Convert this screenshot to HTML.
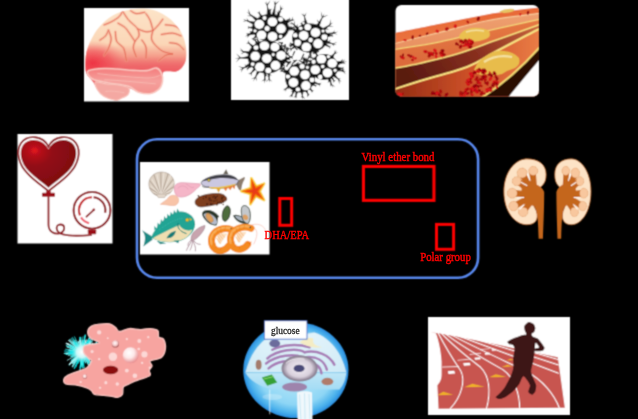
<!DOCTYPE html>
<html><head><meta charset="utf-8">
<style>
html,body{margin:0;padding:0;background:#000;width:638px;height:419px;overflow:hidden}
svg{position:absolute;left:0;top:0;display:block}
text{font-family:"Liberation Serif",serif}
</style></head>
<body>
<svg width="638" height="419" viewBox="0 0 638 419">
<defs><filter id="soft" x="0" y="0" width="638" height="419" filterUnits="userSpaceOnUse"><feConvolveMatrix order="3" kernelMatrix="0.04 0.12 0.04 0.12 0.36 0.12 0.04 0.12 0.04" edgeMode="duplicate" preserveAlpha="false"/></filter></defs>
<rect x="0" y="0" width="638" height="419" fill="#000"/>
<g filter="url(#soft)">
<!-- brain box -->
<g id="brain">
<rect x="84" y="8" width="105" height="93.5" fill="#fff"/>
<defs>
<linearGradient id="bg1" x1="0" y1="0" x2="0" y2="1">
<stop offset="0" stop-color="#fde4c8"/><stop offset="0.4" stop-color="#fbd6b6"/>
<stop offset="0.52" stop-color="#f8c0a0"/><stop offset="0.62" stop-color="#f08078"/>
<stop offset="0.72" stop-color="#ee5a60"/><stop offset="1" stop-color="#f08a88"/>
</linearGradient>
<linearGradient id="bgB" x1="0" y1="0" x2="0" y2="1"><stop offset="0" stop-color="#f06a6a" stop-opacity="0"/><stop offset="0.55" stop-color="#ee5c62" stop-opacity="0.55"/><stop offset="1" stop-color="#ec5460" stop-opacity="0.8"/></linearGradient>
<radialGradient id="bgL" cx="0.5" cy="0.5" r="0.5">
<stop offset="0" stop-color="#ee3444" stop-opacity="1"/><stop offset="0.55" stop-color="#f04a54" stop-opacity="0.6"/><stop offset="1" stop-color="#f07070" stop-opacity="0"/>
</radialGradient>
<linearGradient id="bg2" x1="0" y1="0" x2="0" y2="1">
<stop offset="0" stop-color="#f47c7c"/><stop offset="0.5" stop-color="#f5a09c"/><stop offset="1" stop-color="#f3928e"/>
</linearGradient>
<clipPath id="brclip"><path d="M6,262 C5,246 6,220 10,200 C14,180 22,160 32,140 C42,120 54,100 70,82 C86,64 105,45 130,32 C155,19 191,9 220,5 C249,1 280,2 305,8 C330,14 352,26 372,40 C392,54 412,75 425,95 C438,115 447,138 452,160 C457,182 457,208 455,225 C453,242 447,252 440,262 C433,272 425,279 411,283 C397,287 365,278 355,285 C345,292 354,314 350,327 C346,340 342,355 332,364 C322,373 308,380 293,382 C278,384 258,379 242,375 C226,371 208,356 200,358 C192,360 202,378 196,386 C190,394 172,400 163,404 C154,408 152,413 139,411 C126,409 101,401 88,393 C75,385 67,374 59,363 C51,352 48,341 40,330 C32,319 20,309 14,298 C8,287 7,278 6,262Z"/></clipPath>
</defs>
<g transform="translate(84,8) scale(0.22437)">
<path d="M6,262 C5,246 6,220 10,200 C14,180 22,160 32,140 C42,120 54,100 70,82 C86,64 105,45 130,32 C155,19 191,9 220,5 C249,1 280,2 305,8 C330,14 352,26 372,40 C392,54 412,75 425,95 C438,115 447,138 452,160 C457,182 457,208 455,225 C453,242 447,252 440,262 C433,272 425,279 411,283 C397,287 365,278 355,285 C345,292 354,314 350,327 C346,340 342,355 332,364 C322,373 308,380 293,382 C278,384 258,379 242,375 C226,371 208,356 200,358 C192,360 202,378 196,386 C190,394 172,400 163,404 C154,408 152,413 139,411 C126,409 101,401 88,393 C75,385 67,374 59,363 C51,352 48,341 40,330 C32,319 20,309 14,298 C8,287 7,278 6,262Z" fill="url(#bg1)"/>
<rect x="0" y="160" width="470" height="150" fill="url(#bgB)" clip-path="url(#brclip)"/>
<ellipse cx="40" cy="245" rx="150" ry="100" fill="url(#bgL)" clip-path="url(#brclip)"/>
<g fill="none" stroke="#f2a48a" stroke-width="12" stroke-linecap="round" stroke-linejoin="round" opacity="0.55" clip-path="url(#brclip)"><path d="M171,12 C175,19 188,40 196,50 C203,59 207,61 214,68 C222,76 234,84 239,93 C244,103 247,115 245,124 C243,134 231,140 227,149 C223,159 219,169 220,180 C222,192 231,211 233,218"/><path d="M90,75 C95,73 110,68 121,62 C132,56 150,46 158,37 C167,29 169,17 171,12"/><path d="M152,68 C157,71 175,80 183,87 C191,94 195,102 202,112 C209,122 223,143 227,149"/><path d="M239,93 C245,95 265,105 276,106 C288,107 298,105 308,99 C317,94 325,83 332,75 C340,66 348,54 351,50"/><path d="M276,25 C280,30 290,44 295,56 C300,68 305,92 308,99"/><path d="M308,99 C306,106 299,125 301,137 C303,148 312,159 320,168 C328,177 339,186 351,193 C363,199 387,203 395,205"/><path d="M345,118 C353,117 380,111 395,112 C409,113 426,122 432,124"/><path d="M363,75 C371,76 393,76 407,81 C420,86 438,102 444,106"/><path d="M109,99 C111,106 121,123 121,137 C121,150 114,168 109,180 C103,193 93,206 90,211"/><path d="M140,106 C141,113 140,137 146,149 C152,162 170,166 177,180 C184,195 187,227 189,236"/><path d="M258,143 C261,148 273,161 276,174 C280,188 276,215 276,224"/><path d="M382,155 C388,156 409,156 419,162 C430,167 440,182 444,186"/><path d="M208,12 C212,15 223,24 233,25 C243,26 264,20 270,19"/><path d="M395,37 C399,42 415,63 419,68"/><path d="M71,143 C75,140 90,132 96,124 C102,117 107,104 109,99"/><path d="M332,236 C338,232 353,217 363,211 C374,206 389,206 395,205"/></g>
<g fill="none" stroke="#e4604e" stroke-width="4" stroke-linecap="round" stroke-linejoin="round" clip-path="url(#brclip)"><path d="M171,12 C175,19 188,40 196,50 C203,59 207,61 214,68 C222,76 234,84 239,93 C244,103 247,115 245,124 C243,134 231,140 227,149 C223,159 219,169 220,180 C222,192 231,211 233,218"/><path d="M90,75 C95,73 110,68 121,62 C132,56 150,46 158,37 C167,29 169,17 171,12"/><path d="M152,68 C157,71 175,80 183,87 C191,94 195,102 202,112 C209,122 223,143 227,149"/><path d="M239,93 C245,95 265,105 276,106 C288,107 298,105 308,99 C317,94 325,83 332,75 C340,66 348,54 351,50"/><path d="M276,25 C280,30 290,44 295,56 C300,68 305,92 308,99"/><path d="M308,99 C306,106 299,125 301,137 C303,148 312,159 320,168 C328,177 339,186 351,193 C363,199 387,203 395,205"/><path d="M345,118 C353,117 380,111 395,112 C409,113 426,122 432,124"/><path d="M363,75 C371,76 393,76 407,81 C420,86 438,102 444,106"/><path d="M109,99 C111,106 121,123 121,137 C121,150 114,168 109,180 C103,193 93,206 90,211"/><path d="M140,106 C141,113 140,137 146,149 C152,162 170,166 177,180 C184,195 187,227 189,236"/><path d="M258,143 C261,148 273,161 276,174 C280,188 276,215 276,224"/><path d="M382,155 C388,156 409,156 419,162 C430,167 440,182 444,186"/><path d="M208,12 C212,15 223,24 233,25 C243,26 264,20 270,19"/><path d="M395,37 C399,42 415,63 419,68"/><path d="M71,143 C75,140 90,132 96,124 C102,117 107,104 109,99"/><path d="M332,236 C338,232 353,217 363,211 C374,206 389,206 395,205"/></g>
<path d="M22,279 C34,274 69,271 90,270 C111,269 125,271 147,272 C169,273 198,277 220,278 C242,279 262,281 279,279 C296,277 312,266 323,268 C334,270 340,280 345,290 C350,300 352,315 350,327 C348,339 342,355 332,364 C322,373 308,380 293,382 C278,384 258,380 242,375 C226,370 220,356 198,349 C176,342 136,339 110,334 C84,329 59,326 44,320 C29,314 24,307 20,300 C16,293 10,284 22,279Z" fill="url(#bg2)" stroke="#f9c8c0" stroke-width="7"/>
<path d="M51,330 C58,326 84,336 100,338 C116,340 131,339 147,342 C163,345 190,349 198,356 C206,363 202,378 196,386 C190,394 172,400 163,404 C154,408 152,413 139,411 C126,409 101,401 88,393 C75,385 65,374 59,363 C53,352 44,334 51,330Z" fill="#f4a8a2" stroke="#f8c4bc" stroke-width="5"/>
<g fill="none" stroke="#f7c0b8" stroke-width="3.5" opacity="0.9">
<path d="M60,292 C120,300 200,308 280,312 C310,312 330,305 342,298"/>
<path d="M90,320 C150,322 230,330 320,338"/>
<path d="M95,372 C120,368 150,372 180,378"/>
</g>
</g>
</g>
<!-- network box -->
<g id="net">
<rect x="231" y="0" width="118" height="100" fill="#fff"/>
<g id="netart">
<g stroke="#141414" stroke-width="1.1" fill="none"><path d="M313.1,60.5 L308.1,61.1"/><path d="M303.6,68.0 L296.2,66.9"/><path d="M282.8,43.4 L278.7,42.2"/><path d="M286.5,66.8 L289.2,61.4"/><path d="M292.7,56.5 L286.2,58.1"/><path d="M313.6,42.1 L320.3,41.1"/><path d="M282.6,42.3 L281.0,45.5"/><path d="M302.2,62.7 L304.3,60.7"/><path d="M280.1,56.2 L285.3,61.1"/><path d="M298.2,43.5 L291.6,44.2"/><path d="M285.1,56.0 L287.5,63.2"/><path d="M308.3,56.1 L311.6,56.1"/><path d="M293.3,62.8 L295.8,60.8"/><path d="M305.6,68.8 L308.6,63.5"/><path d="M312.4,63.5 L312.7,68.0"/><path d="M284.1,67.0 L284.1,70.3"/><path d="M308.2,46.2 L303.2,49.3"/><path d="M280.9,52.4 L275.6,50.5"/><path d="M307.0,59.1 L302.5,59.2"/><path d="M293.1,60.7 L297.2,60.2"/><path d="M284.1,67.7 L279.6,69.3"/><path d="M308.1,47.9 L314.0,49.0"/><path d="M283.1,50.8 L277.0,53.5"/><path d="M288.2,64.3 L290.8,61.4"/><path d="M309.0,57.2 L306.0,61.9"/><path d="M311.7,62.4 L316.9,67.9"/><path d="M291.3,68.0 L295.1,75.1"/><path d="M303.2,50.4 L301.4,46.3"/><path d="M285.8,53.5 L289.1,47.9"/><path d="M313.7,52.4 L314.9,47.2"/><path d="M284.7,46.0 L278.2,45.9"/><path d="M303.1,58.0 L307.8,62.2"/><path d="M282.0,59.1 L289.5,59.3"/><path d="M307.9,57.1 L313.6,58.3"/><path d="M313.8,53.0 L315.6,47.7"/><path d="M303.6,63.3 L306.6,61.1"/><path d="M313.0,53.7 L319.0,51.2"/><path d="M286.6,57.0 L282.2,59.3"/><path d="M311.5,48.7 L314.9,50.0"/><path d="M303.4,60.2 L307.3,59.7"/><path d="M281.2,63.0 L284.7,66.4"/><path d="M299.1,42.4 L306.1,45.4"/><path d="M286.9,50.4 L284.9,44.2"/><path d="M305.4,48.6 L310.0,46.5"/><path d="M311.7,66.8 L308.9,65.7"/><path d="M313.4,50.4 L306.7,51.9"/><path d="M304.9,69.9 L310.3,64.9"/><path d="M313.6,48.6 L309.1,48.4"/><path d="M309.6,65.6 L310.7,62.3"/><path d="M289.9,42.9 L292.5,44.7"/><path d="M301.8,45.7 L302.0,42.4"/><path d="M292.8,55.5 L294.8,51.0"/><path d="M283.7,61.2 L281.9,66.6"/><path d="M289.6,69.5 L289.4,75.2"/><path d="M293.2,62.5 L290.3,68.3"/><path d="M313.7,45.5 L308.5,48.5"/><path d="M285.7,51.9 L278.3,54.8"/><path d="M299.8,42.7 L304.9,40.4"/><path d="M293.7,46.3 L297.3,49.9"/><path d="M313.2,64.8 L320.1,67.6"/><path d="M293.7,66.0 L298.5,62.6"/><path d="M285.9,50.5 L287.8,47.4"/><path d="M281.8,47.8 L276.0,43.1"/><path d="M313.8,68.5 L312.4,65.3"/><path d="M301.0,60.1 L303.9,53.7"/><path d="M286.4,53.8 L292.6,58.4"/><path d="M311.2,49.1 L310.6,56.4"/><path d="M304.3,63.7 L298.8,60.1"/><path d="M283.8,45.3 L285.0,49.6"/><path d="M313.8,43.7 L310.0,48.2"/></g>
<g fill="#141414"><path d="M270.7,16.6 L268.4,8.8 L266.7,0.9 L267.0,9.0 L266.6,17.1Z"/><path d="M267.7,5.6 L270.4,0.2 L266.8,5.1Z"/><path d="M267.6,4.9 L264.6,2.1 L266.9,5.6Z"/><path d="M268.5,12.5 L271.8,9.0 L267.7,11.6Z"/><path d="M259.8,19.4 L253.0,15.8 L246.7,11.7 L252.2,16.9 L257.2,22.7Z"/><path d="M250.3,14.0 L248.1,8.8 L249.3,14.3Z"/><path d="M251.8,15.3 L246.8,16.0 L251.9,16.3Z"/><path d="M256.9,22.1 L249.8,21.0 L243.0,19.3 L249.3,22.4 L255.4,26.1Z"/><path d="M248.8,21.0 L246.6,18.0 L247.9,21.5Z"/><path d="M246.3,20.1 L242.9,21.5 L246.5,21.0Z"/><path d="M255.5,30.1 L250.4,33.6 L245.0,36.4 L250.9,34.9 L257.0,34.0Z"/><path d="M249.4,34.3 L246.0,33.7 L249.1,35.2Z"/><path d="M248.2,34.8 L247.5,38.1 L249.1,35.2Z"/><path d="M278.9,18.7 L280.3,12.2 L282.5,6.0 L279.1,11.6 L275.1,16.9Z"/><path d="M280.9,10.3 L283.7,8.1 L280.4,9.5Z"/><path d="M281.3,9.5 L280.1,4.6 L280.3,9.6Z"/><path d="M279.1,13.9 L276.5,11.0 L278.1,14.6Z"/><path d="M285.3,25.3 L289.8,21.8 L294.5,18.9 L289.2,20.5 L283.6,21.5Z"/><path d="M291.1,20.9 L294.7,21.1 L291.2,19.9Z"/><path d="M292.4,20.2 L293.1,16.5 L291.5,19.9Z"/><path d="M288.1,22.2 L288.0,18.8 L286.9,22.0Z"/><path d="M275.2,17.3 L275.3,8.7 L276.1,0.2 L273.9,8.4 L271.1,16.6Z"/><path d="M275.7,4.8 L279.5,0.4 L275.0,4.1Z"/><path d="M275.7,4.6 L273.6,0.6 L274.8,5.0Z"/><path d="M250.7,55.4 L242.8,57.2 L234.8,58.2 L242.8,58.6 L250.9,59.6Z"/><path d="M240.9,57.6 L236.2,53.6 L240.2,58.3Z"/><path d="M239.3,57.7 L235.9,62.5 L240.1,58.3Z"/><path d="M251.7,61.4 L245.7,66.1 L239.4,70.2 L246.3,67.4 L253.6,65.1Z"/><path d="M243.8,67.5 L238.1,66.2 L243.5,68.5Z"/><path d="M242.5,68.1 L240.9,72.4 L243.4,68.6Z"/><path d="M257.8,68.1 L255.8,74.9 L253.2,81.5 L257.1,75.6 L261.5,70.0Z"/><path d="M255.2,76.9 L250.9,79.2 L255.6,77.8Z"/><path d="M255.1,77.0 L256.8,81.2 L256.1,76.7Z"/><path d="M263.3,70.2 L264.1,76.8 L264.2,83.4 L265.5,77.0 L267.5,70.6Z"/><path d="M264.3,78.9 L261.4,81.6 L264.8,79.8Z"/><path d="M264.2,78.6 L266.8,82.0 L265.1,78.1Z"/><path d="M264.7,74.8 L268.1,76.7 L265.4,73.8Z"/><path d="M266.3,70.6 L268.3,76.5 L269.5,82.4 L269.7,76.4 L270.5,70.3Z"/><path d="M268.8,78.5 L266.5,81.8 L269.6,79.1Z"/><path d="M268.9,79.6 L272.3,81.7 L269.5,78.9Z"/><path d="M268.5,74.6 L271.9,75.7 L269.0,73.5Z"/><path d="M251.9,51.5 L245.7,51.3 L239.7,50.5 L245.4,52.7 L250.8,55.6Z"/><path d="M243.2,51.0 L240.0,47.9 L242.5,51.6Z"/><path d="M244.3,51.3 L240.7,54.2 L244.9,52.2Z"/><path d="M308.8,26.1 L305.9,19.6 L303.6,12.9 L304.5,19.9 L304.7,27.1Z"/><path d="M304.9,16.8 L306.5,12.6 L304.0,16.4Z"/><path d="M304.8,16.1 L301.2,13.5 L304.1,16.8Z"/><path d="M306.0,21.9 L301.9,21.1 L305.6,23.1Z"/><path d="M318.8,28.6 L321.3,20.9 L324.4,13.5 L320.0,20.2 L315.1,26.7Z"/><path d="M322.6,17.7 L328.2,14.9 L322.2,16.8Z"/><path d="M322.8,17.2 L320.8,11.3 L321.9,17.4Z"/><path d="M319.7,23.1 L316.8,19.2 L318.6,23.7Z"/><path d="M323.1,32.6 L327.8,27.2 L333.0,22.5 L327.0,26.1 L320.6,29.2Z"/><path d="M328.2,26.6 L333.8,26.2 L328.2,25.6Z"/><path d="M330.4,24.9 L331.0,19.3 L329.4,24.7Z"/><path d="M325.0,28.9 L329.1,29.8 L325.4,27.8Z"/><path d="M324.9,37.2 L331.4,34.2 L338.0,31.8 L331.0,32.8 L323.9,33.1Z"/><path d="M332.7,33.6 L337.5,34.6 L333.0,32.6Z"/><path d="M333.5,33.3 L334.9,29.9 L332.7,32.8Z"/><path d="M323.7,43.3 L330.3,43.8 L336.7,45.0 L330.7,42.5 L324.8,39.3Z"/><path d="M331.7,43.9 L334.3,46.2 L332.5,43.3Z"/><path d="M333.2,44.3 L337.3,42.1 L332.8,43.4Z"/><path d="M328.4,42.9 L330.9,39.8 L327.6,41.9Z"/><path d="M300.7,28.4 L295.4,25.3 L290.6,21.6 L294.4,26.3 L297.8,31.4Z"/><path d="M294.7,25.1 L294.2,20.8 L293.7,25.1Z"/><path d="M292.8,23.2 L288.7,24.0 L292.8,24.2Z"/><path d="M297.3,27.5 L297.4,23.9 L296.1,27.3Z"/><path d="M335.9,66.5 L341.3,63.6 L347.0,61.5 L341.0,62.3 L334.8,62.4Z"/><path d="M342.2,63.1 L346.0,64.3 L342.7,62.2Z"/><path d="M343.1,62.8 L344.9,58.9 L342.3,62.3Z"/><path d="M334.9,71.4 L340.6,71.3 L346.1,71.9 L340.9,69.9 L335.9,67.3Z"/><path d="M342.9,71.5 L345.7,74.3 L343.7,70.9Z"/><path d="M342.2,71.4 L344.9,69.8 L341.8,70.4Z"/><path d="M331.2,75.5 L336.6,78.6 L341.5,82.1 L337.5,77.5 L334.0,72.5Z"/><path d="M338.3,79.8 L339.4,84.3 L339.3,79.7Z"/><path d="M337.9,79.4 L341.0,78.8 L337.9,78.4Z"/><path d="M326.4,77.4 L329.9,82.4 L332.8,87.8 L331.2,81.9 L330.3,75.8Z"/><path d="M330.6,83.3 L330.1,87.0 L331.6,83.6Z"/><path d="M331.2,84.8 L335.3,87.2 L331.7,84.0Z"/><path d="M329.2,79.6 L327.6,82.9 L330.2,80.3Z"/><path d="M332.5,59.8 L334.3,54.9 L336.7,50.5 L333.2,54.1 L329.1,57.4Z"/><path d="M334.5,54.3 L338.0,52.4 L334.1,53.3Z"/><path d="M335.5,52.9 L335.0,49.8 L334.5,52.8Z"/><path d="M299.6,89.9 L301.6,94.6 L303.0,99.5 L303.0,94.5 L303.7,89.3Z"/><path d="M302.1,95.4 L300.6,98.0 L302.9,96.1Z"/><path d="M302.2,96.8 L305.2,99.2 L302.9,96.1Z"/><path d="M292.9,87.7 L292.1,92.8 L290.6,97.7 L293.4,93.4 L296.8,89.5Z"/><path d="M291.6,94.6 L289.0,96.7 L292.1,95.4Z"/><path d="M291.4,94.9 L292.2,97.5 L292.4,94.8Z"/><path d="M293.5,90.7 L290.6,91.7 L293.7,91.9Z"/><path d="M303.4,89.4 L306.6,92.9 L309.2,96.6 L307.9,92.3 L307.2,87.6Z"/><path d="M307.7,94.3 L306.9,97.6 L308.6,94.7Z"/><path d="M307.6,94.3 L309.8,95.0 L308.1,93.5Z"/><path d="M289.2,83.6 L286.5,87.5 L283.4,90.8 L287.4,88.6 L291.8,86.9Z"/><path d="M285.4,88.8 L283.1,89.0 L285.3,89.8Z"/><path d="M285.5,88.7 L285.8,91.8 L286.5,88.8Z"/><path d="M287.7,87.0 L288.6,89.6 L288.9,86.9Z"/><path d="M254.5,29.6 L249.6,32.5 L255.3,32.6Z"/><path d="M251.4,31.7 L249.4,31.3 L251.0,32.5Z"/><path d="M250.8,31.9 L250.1,33.7 L251.6,32.4Z"/><path d="M254.7,30.5 L246.6,35.1 L255.8,33.5Z"/><path d="M249.3,33.7 L246.1,33.0 L249.0,34.6Z"/><path d="M248.8,33.9 L247.5,36.9 L249.6,34.4Z"/><path d="M286.7,29.3 L295.6,27.4 L286.6,26.1Z"/><path d="M292.7,27.8 L295.4,29.5 L293.2,27.1Z"/><path d="M293.2,27.8 L295.3,25.4 L292.6,27.2Z"/><path d="M286.4,30.6 L295.9,29.9 L286.7,27.5Z"/><path d="M292.8,29.9 L295.4,31.9 L293.4,29.3Z"/><path d="M293.3,30.0 L295.7,27.8 L292.8,29.3Z"/><path d="M271.7,16.1 L269.9,8.2 L268.5,16.2Z"/><path d="M270.3,10.9 L271.7,8.4 L269.6,10.3Z"/><path d="M270.3,10.3 L268.1,8.5 L269.6,10.9Z"/><path d="M254.4,26.0 L247.5,27.4 L254.3,29.2Z"/><path d="M249.8,27.1 L247.7,25.9 L249.2,27.8Z"/><path d="M249.3,27.1 L247.6,29.0 L249.8,27.8Z"/><path d="M256.7,33.9 L251.8,39.7 L258.6,36.5Z"/><path d="M253.6,37.9 L251.0,38.3 L253.5,38.8Z"/><path d="M253.1,38.3 L253.0,40.9 L254.0,38.5Z"/><path d="M285.3,23.5 L290.7,18.6 L283.7,20.7Z"/><path d="M288.8,20.1 L291.3,20.1 L288.9,19.2Z"/><path d="M289.3,19.8 L289.7,17.3 L288.4,19.5Z"/><path d="M263.5,17.0 L258.3,11.4 L260.8,18.7Z"/><path d="M259.9,13.4 L259.8,10.7 L259.0,13.2Z"/><path d="M259.6,12.9 L256.9,12.5 L259.3,13.7Z"/><path d="M278.6,17.8 L280.0,10.6 L275.6,16.5Z"/><path d="M279.4,13.0 L281.4,11.5 L279.0,12.1Z"/><path d="M279.6,12.4 L278.5,10.1 L278.7,12.7Z"/><path d="M250.9,61.7 L244.8,66.4 L252.3,64.6Z"/><path d="M247.0,65.0 L244.3,64.8 L246.7,65.9Z"/><path d="M246.4,65.3 L245.8,67.8 L247.3,65.6Z"/><path d="M283.1,62.3 L291.4,62.9 L283.9,59.2Z"/><path d="M288.7,62.5 L290.7,64.6 L289.4,62.0Z"/><path d="M289.2,62.6 L291.6,61.0 L288.8,61.8Z"/><path d="M266.7,42.7 L264.5,37.4 L263.5,43.0Z"/><path d="M265.0,39.3 L265.7,37.5 L264.3,38.8Z"/><path d="M265.0,38.7 L263.3,37.7 L264.3,39.4Z"/><path d="M261.1,43.4 L256.7,37.9 L258.2,44.8Z"/><path d="M258.0,39.9 L258.2,37.4 L257.1,39.6Z"/><path d="M257.8,39.3 L255.4,38.7 L257.4,40.2Z"/><path d="M259.4,44.0 L254.1,38.5 L256.6,45.7Z"/><path d="M255.7,40.5 L255.6,37.9 L254.8,40.4Z"/><path d="M255.4,40.0 L252.8,39.6 L255.1,40.9Z"/><path d="M283.9,59.9 L290.8,59.0 L284.2,56.7Z"/><path d="M288.5,59.1 L290.5,60.5 L289.1,58.5Z"/><path d="M289.0,59.2 L290.7,57.4 L288.5,58.4Z"/><path d="M254.6,66.7 L249.5,75.1 L257.0,68.8Z"/><path d="M251.3,72.5 L248.0,73.4 L251.4,73.4Z"/><path d="M250.9,72.9 L251.3,76.3 L251.8,72.9Z"/><path d="M284.1,55.9 L289.1,53.3 L283.5,52.7Z"/><path d="M287.3,54.0 L289.1,54.5 L287.7,53.2Z"/><path d="M287.8,53.9 L288.7,52.1 L287.1,53.3Z"/><path d="M255.1,46.5 L246.9,41.5 L253.0,48.9Z"/><path d="M249.5,43.3 L248.5,40.1 L248.6,43.4Z"/><path d="M249.1,42.9 L245.8,43.3 L249.1,43.8Z"/><path d="M251.9,63.6 L246.2,69.5 L253.7,66.3Z"/><path d="M248.2,67.7 L245.4,67.8 L248.1,68.6Z"/><path d="M247.7,68.0 L247.4,70.8 L248.6,68.2Z"/><path d="M296.2,43.7 L289.1,50.6 L298.0,46.4Z"/><path d="M291.5,48.5 L288.1,48.6 L291.5,49.4Z"/><path d="M291.1,48.8 L290.6,52.3 L291.9,49.1Z"/><path d="M323.1,45.2 L330.9,47.4 L324.6,42.3Z"/><path d="M328.4,46.5 L329.8,48.9 L329.2,46.1Z"/><path d="M328.9,46.8 L331.5,45.7 L328.7,45.9Z"/><path d="M304.7,26.2 L301.1,22.3 L301.8,27.5Z"/><path d="M302.2,23.8 L302.2,22.0 L301.3,23.6Z"/><path d="M301.9,23.3 L300.1,22.9 L301.5,24.1Z"/><path d="M295.2,42.0 L289.0,46.9 L296.7,44.9Z"/><path d="M291.2,45.5 L288.4,45.2 L291.0,46.3Z"/><path d="M290.7,45.7 L290.0,48.4 L291.5,46.1Z"/><path d="M308.5,50.4 L310.1,55.7 L311.7,50.3Z"/><path d="M309.8,53.8 L308.9,55.5 L310.5,54.4Z"/><path d="M309.8,54.4 L311.3,55.5 L310.5,53.8Z"/><path d="M297.5,30.1 L290.0,27.4 L295.8,32.9Z"/><path d="M292.5,28.5 L291.2,26.0 L291.6,28.8Z"/><path d="M292.0,28.2 L289.3,29.0 L292.1,29.1Z"/><path d="M325.7,37.9 L333.6,35.3 L325.3,34.8Z"/><path d="M330.9,36.0 L333.6,37.1 L331.4,35.2Z"/><path d="M331.5,35.9 L333.1,33.5 L330.8,35.3Z"/><path d="M308.0,25.6 L305.1,20.2 L304.9,26.3Z"/><path d="M305.9,22.1 L306.5,20.1 L305.1,21.7Z"/><path d="M305.8,21.6 L303.9,20.7 L305.3,22.3Z"/><path d="M295.0,41.6 L289.2,46.0 L296.3,44.5Z"/><path d="M291.2,44.6 L288.7,44.4 L291.0,45.5Z"/><path d="M290.7,44.9 L290.0,47.3 L291.5,45.3Z"/><path d="M313.4,50.2 L317.6,57.8 L316.5,49.2Z"/><path d="M316.4,55.2 L315.7,58.1 L317.2,55.5Z"/><path d="M316.6,55.7 L319.3,56.9 L317.0,55.0Z"/><path d="M327.4,77.7 L331.0,82.0 L330.4,76.4Z"/><path d="M330.0,80.4 L329.8,82.3 L330.8,80.6Z"/><path d="M330.2,80.9 L332.1,81.3 L330.6,80.1Z"/><path d="M335.8,70.7 L344.2,70.8 L336.4,67.6Z"/><path d="M341.4,70.6 L343.6,72.6 L342.1,70.0Z"/><path d="M342.0,70.7 L344.3,68.9 L341.5,69.9Z"/><path d="M314.4,73.9 L308.8,82.1 L316.7,76.1Z"/><path d="M310.8,79.5 L307.4,80.4 L310.9,80.4Z"/><path d="M310.4,80.0 L310.6,83.4 L311.3,80.0Z"/><path d="M313.3,61.2 L307.0,60.2 L312.0,64.1Z"/><path d="M309.1,60.7 L307.8,59.0 L308.3,61.1Z"/><path d="M308.6,60.5 L306.7,61.6 L308.9,61.4Z"/><path d="M329.5,77.0 L334.9,82.1 L332.2,75.2Z"/><path d="M333.2,80.3 L333.4,82.9 L334.1,80.4Z"/><path d="M333.5,80.8 L336.1,81.0 L333.8,79.9Z"/><path d="M336.2,69.5 L344.3,68.6 L336.4,66.3Z"/><path d="M341.6,68.7 L343.9,70.4 L342.2,68.1Z"/><path d="M342.1,68.8 L344.2,66.8 L341.6,68.1Z"/><path d="M319.6,56.6 L315.7,52.8 L316.7,58.1Z"/><path d="M316.8,54.2 L316.8,52.3 L316.0,54.0Z"/><path d="M316.6,53.7 L314.7,53.5 L316.2,54.6Z"/><path d="M311.7,68.4 L307.3,71.3 L312.6,71.5Z"/><path d="M308.9,70.5 L307.1,70.2 L308.5,71.3Z"/><path d="M308.4,70.7 L307.7,72.4 L309.1,71.2Z"/><path d="M336.2,64.8 L343.7,60.5 L335.1,61.8Z"/><path d="M341.1,61.8 L344.1,62.4 L341.4,60.9Z"/><path d="M341.7,61.6 L342.8,58.8 L340.9,61.1Z"/><path d="M336.4,65.8 L342.9,62.4 L335.5,62.7Z"/><path d="M340.7,63.4 L343.1,64.1 L341.0,62.6Z"/><path d="M341.2,63.2 L342.3,60.9 L340.5,62.7Z"/><path d="M308.4,68.6 L312.3,59.8 L305.8,66.8Z"/><path d="M310.9,62.6 L313.9,61.3 L310.6,61.8Z"/><path d="M311.2,62.1 L310.4,58.9 L310.3,62.2Z"/><path d="M310.7,85.0 L316.5,86.2 L312.2,82.2Z"/><path d="M314.6,85.6 L315.8,87.3 L315.4,85.3Z"/><path d="M315.1,85.9 L316.9,85.0 L314.9,85.0Z"/><path d="M307.4,88.2 L313.2,92.2 L309.8,86.1Z"/><path d="M311.4,90.7 L312.0,93.1 L312.3,90.7Z"/><path d="M311.8,91.1 L314.2,91.0 L311.9,90.2Z"/><path d="M306.6,67.3 L307.9,60.5 L303.7,66.1Z"/><path d="M307.3,62.8 L309.2,61.3 L306.9,62.0Z"/><path d="M307.5,62.2 L306.4,60.1 L306.7,62.5Z"/><path d="M311.7,83.4 L321.3,84.9 L312.7,80.3Z"/><path d="M318.2,84.2 L320.3,86.8 L318.9,83.7Z"/><path d="M318.7,84.4 L321.7,82.7 L318.4,83.6Z"/><path d="M289.4,70.8 L281.3,68.4 L287.9,73.7Z"/><path d="M283.9,69.4 L282.4,66.8 L283.1,69.7Z"/><path d="M283.4,69.1 L280.6,70.2 L283.6,70.0Z"/><path d="M288.7,71.9 L279.9,70.1 L287.5,74.9Z"/><path d="M282.7,70.9 L280.9,68.4 L281.9,71.3Z"/><path d="M282.2,70.7 L279.4,72.1 L282.5,71.6Z"/><path d="M312.9,77.0 L320.6,73.8 L312.2,73.9Z"/><path d="M317.9,74.7 L320.7,75.6 L318.4,73.9Z"/><path d="M318.5,74.5 L319.9,72.0 L317.8,74.0Z"/><path d="M304.3,66.3 L304.8,56.5 L301.2,65.6Z"/><path d="M304.4,59.7 L306.8,57.3 L303.9,59.0Z"/><path d="M304.6,59.1 L302.6,56.4 L303.8,59.6Z"/><path d="M295.6,89.7 L295.3,98.4 L298.7,90.4Z"/><path d="M295.6,95.5 L293.5,97.7 L296.1,96.2Z"/><path d="M295.4,96.1 L297.2,98.5 L296.2,95.7Z"/><ellipse cx="270.5" cy="28" rx="18.4" ry="13.9"/><ellipse cx="267" cy="57" rx="19.4" ry="16.4"/><ellipse cx="310" cy="38" rx="17.9" ry="14.4"/><ellipse cx="324" cy="67" rx="14.4" ry="12.9"/><ellipse cx="300" cy="78" rx="14.9" ry="14.4"/></g>
<g fill="#fff"><ellipse cx="259.3" cy="24.3" rx="4.8" ry="4.6"/><ellipse cx="272.5" cy="36.5" rx="4.8" ry="4.6"/><ellipse cx="281.1" cy="28.7" rx="4.8" ry="4.6"/><ellipse cx="272.4" cy="21.8" rx="4.8" ry="4.5"/><ellipse cx="261.5" cy="35.0" rx="4.7" ry="4.5"/><ellipse cx="267.1" cy="28.4" rx="2.6" ry="2.5"/><ellipse cx="280.6" cy="19.3" rx="2.5" ry="2.4"/><ellipse cx="264.5" cy="17.9" rx="2.1" ry="2.0"/><ellipse cx="280.6" cy="36.5" rx="1.8" ry="1.7"/><ellipse cx="255.0" cy="30.8" rx="1.7" ry="1.6"/><ellipse cx="255.2" cy="56.2" rx="4.8" ry="4.6"/><ellipse cx="275.5" cy="65.4" rx="4.8" ry="4.6"/><ellipse cx="266.8" cy="58.5" rx="4.8" ry="4.6"/><ellipse cx="281.1" cy="55.4" rx="4.8" ry="4.5"/><ellipse cx="264.4" cy="45.7" rx="4.8" ry="4.5"/><ellipse cx="259.8" cy="67.1" rx="4.8" ry="4.5"/><ellipse cx="274.9" cy="47.0" rx="4.5" ry="4.3"/><ellipse cx="268.3" cy="70.5" rx="3.0" ry="2.8"/><ellipse cx="256.0" cy="47.6" rx="2.5" ry="2.4"/><ellipse cx="252.7" cy="64.1" rx="2.0" ry="1.9"/><ellipse cx="273.2" cy="54.4" rx="1.6" ry="1.5"/><ellipse cx="303.7" cy="35.6" rx="4.8" ry="4.6"/><ellipse cx="315.5" cy="32.5" rx="4.8" ry="4.6"/><ellipse cx="318.0" cy="43.7" rx="4.8" ry="4.6"/><ellipse cx="306.3" cy="47.1" rx="4.8" ry="4.5"/><ellipse cx="297.7" cy="42.8" rx="3.3" ry="3.2"/><ellipse cx="307.7" cy="27.2" rx="3.3" ry="3.1"/><ellipse cx="324.4" cy="37.1" rx="3.0" ry="2.9"/><ellipse cx="295.2" cy="35.3" rx="2.4" ry="2.3"/><ellipse cx="310.6" cy="40.0" rx="2.3" ry="2.2"/><ellipse cx="300.7" cy="28.3" rx="1.9" ry="1.8"/><ellipse cx="323.0" cy="31.0" rx="1.7" ry="1.6"/><ellipse cx="327.5" cy="72.8" rx="4.8" ry="4.6"/><ellipse cx="321.4" cy="59.0" rx="4.8" ry="4.6"/><ellipse cx="315.3" cy="69.8" rx="4.8" ry="4.5"/><ellipse cx="332.2" cy="63.3" rx="4.8" ry="4.5"/><ellipse cx="320.2" cy="77.0" rx="2.3" ry="2.2"/><ellipse cx="313.6" cy="61.8" rx="2.2" ry="2.1"/><ellipse cx="322.7" cy="66.5" rx="1.8" ry="1.8"/><ellipse cx="335.1" cy="70.3" rx="1.7" ry="1.6"/><ellipse cx="328.4" cy="56.6" rx="1.7" ry="1.6"/><ellipse cx="294.2" cy="71.2" rx="4.8" ry="4.6"/><ellipse cx="293.4" cy="82.5" rx="4.8" ry="4.6"/><ellipse cx="305.9" cy="85.7" rx="4.8" ry="4.6"/><ellipse cx="305.0" cy="74.8" rx="4.8" ry="4.6"/><ellipse cx="302.1" cy="66.4" rx="2.6" ry="2.4"/><ellipse cx="312.0" cy="79.9" rx="2.4" ry="2.3"/><ellipse cx="297.9" cy="89.4" rx="2.2" ry="2.1"/><ellipse cx="287.9" cy="76.6" rx="2.2" ry="2.1"/><ellipse cx="307.4" cy="67.5" rx="1.5" ry="1.4"/></g>
</g>
</g>
<!-- artery box -->
<g id="artery">
<defs>
<clipPath id="artclip"><rect x="395.5" y="5" width="143.5" height="91.5" rx="6"/></clipPath>
<linearGradient id="ag1" x1="0" y1="0" x2="0.2" y2="1"><stop offset="0" stop-color="#e4602e"/><stop offset="1" stop-color="#f4925a"/></linearGradient>
<linearGradient id="ag2" x1="0" y1="0" x2="0" y2="1"><stop offset="0" stop-color="#eea070"/><stop offset="1" stop-color="#e07a4c"/></linearGradient>
<linearGradient id="ag4" x1="0" y1="0" x2="0.2" y2="1"><stop offset="0" stop-color="#ea8048"/><stop offset="1" stop-color="#d05830"/></linearGradient>
<linearGradient id="ag3" x1="0" y1="0.3" x2="1" y2="0"><stop offset="0" stop-color="#5a1a10"/><stop offset="0.5" stop-color="#8a3020"/><stop offset="1" stop-color="#d06a40"/></linearGradient>
<linearGradient id="ag5" x1="0" y1="0" x2="1" y2="0"><stop offset="0" stop-color="#902a12"/><stop offset="0.5" stop-color="#cc5028"/><stop offset="1" stop-color="#ec8048"/></linearGradient>
</defs>
<rect x="395.5" y="5" width="143.5" height="91.5" rx="6" fill="#fff"/>
<g clip-path="url(#artclip)">
<path d="M390.0,34.0 C390.8,33.8 386.7,34.6 395.0,32.9 C403.3,31.2 424.7,26.9 440.0,23.8 C455.3,20.7 471.3,17.0 487.0,14.4 C502.7,11.8 524.2,9.3 534.0,8.1 C543.8,6.9 544.0,7.2 546.0,7.0 L546,100 L390,100 Z" fill="url(#ag1)"/>
<path d="M390.0,44.6 C390.8,44.4 386.7,45.5 395.0,43.5 C403.3,41.5 424.7,36.2 440.0,32.4 C455.3,28.6 470.8,23.8 487.0,20.7 C503.2,17.6 527.2,14.9 537.0,13.6 C546.8,12.3 544.5,12.9 546.0,12.8 L546,100 L390,100 Z" fill="url(#ag2)"/>
<path d="M390.0,50.2 C390.8,50.1 386.7,50.8 395.0,49.4 C403.3,48.0 424.7,44.9 440.0,41.8 C455.3,38.7 470.8,34.5 487.0,30.9 C503.2,27.2 527.2,22.0 537.0,19.9 C546.8,17.8 544.5,18.3 546.0,18.0 L546,100 L390,100 Z" fill="url(#ag4)"/>
<path d="M390.0,69.3 C390.8,69.1 390.0,69.2 395.0,68.2 C400.0,67.2 409.6,65.6 420.0,63.2 C430.4,60.8 445.1,57.6 457.6,53.8 C470.1,50.0 481.8,45.3 495.0,40.6 C508.2,35.9 528.5,28.4 537.0,25.4 C545.5,22.4 544.5,23.0 546.0,22.5 L546,100 L390,100 Z" fill="url(#ag3)"/>
<path d="M390.0,90.6 C390.8,90.3 390.0,90.6 395.0,89.0 C400.0,87.4 408.0,84.7 420.0,81.0 C432.0,77.3 454.5,71.8 467.0,67.0 C479.5,62.2 483.3,58.2 495.0,52.0 C506.7,45.8 528.5,34.3 537.0,30.0 C545.5,25.7 544.5,26.7 546.0,26.0 L546,100 L390,100 Z" fill="url(#ag5)"/>
<path d="M478,100 Q514,78 546,40 L546,100 Z" fill="#2a0c06"/>
<path d="M506,100 Q522,80 546,52 L546,100 Z" fill="#fff"/>
<g fill="none" stroke-linecap="round">
<path d="M390.0,44.6 C390.8,44.4 386.7,45.5 395.0,43.5 C403.3,41.5 424.7,36.2 440.0,32.4 C455.3,28.6 470.8,23.8 487.0,20.7 C503.2,17.6 527.2,14.9 537.0,13.6 C546.8,12.3 544.5,12.9 546.0,12.8" stroke="#f8c898" stroke-width="1.1"/>
<path d="M390.0,50.2 C390.8,50.1 386.7,50.8 395.0,49.4 C403.3,48.0 424.7,44.9 440.0,41.8 C455.3,38.7 470.8,34.5 487.0,30.9 C503.2,27.2 527.2,22.0 537.0,19.9 C546.8,17.8 544.5,18.3 546.0,18.0" stroke="#f4d478" stroke-width="1.3"/>
<path d="M390.0,69.3 C390.8,69.1 390.0,69.2 395.0,68.2 C400.0,67.2 409.6,65.6 420.0,63.2 C430.4,60.8 445.1,57.6 457.6,53.8 C470.1,50.0 481.8,45.3 495.0,40.6 C508.2,35.9 528.5,28.4 537.0,25.4 C545.5,22.4 544.5,23.0 546.0,22.5" stroke="#f6dc7c" stroke-width="1.6"/>
<path d="M390.0,90.6 C390.8,90.3 390.0,90.6 395.0,89.0 C400.0,87.4 408.0,84.7 420.0,81.0 C432.0,77.3 454.5,71.8 467.0,67.0 C479.5,62.2 483.3,58.2 495.0,52.0 C506.7,45.8 528.5,34.3 537.0,30.0 C545.5,25.7 544.5,26.7 546.0,26.0" stroke="#f8e080" stroke-width="2.0"/>
<path d="M478,100 Q514,78 546,40" stroke="#f2d870" stroke-width="2"/>
</g>
<path d="M459,36 Q463,29 472,28 Q482,27 489,31 Q492,36 486,39 Q476,43 466,42 Q459,41 459,36Z" fill="#eac050"/>
<path d="M466,32 Q474,29 484,31" stroke="#f4e0a0" stroke-width="1.5" fill="none"/>
<path d="M474,70 Q478,60 486,56 Q494,50 504,51 Q514,52 519,58 Q521,64 515,68 Q508,70 502,74 Q492,77 484,75 Q476,75 474,70Z" fill="#e8bc4c"/>
<path d="M484,62 Q496,54 512,57" stroke="#f4e0a0" stroke-width="2.2" fill="none"/>
<path d="M499,11.5 Q505,8 514,9 Q516,12 504,13Z" fill="#e6c464"/>
<ellipse cx="405.0" cy="40.2" rx="1.7" ry="1.1" transform="rotate(12 405.0 40.2)" fill="#d8181a"/><ellipse cx="412.7" cy="37.4" rx="2.2" ry="1.3" transform="rotate(94 412.7 37.4)" fill="#98060a"/><ellipse cx="420.0" cy="35.7" rx="1.4" ry="0.9" transform="rotate(167 420.0 35.7)" fill="#98060a"/><ellipse cx="427.1" cy="33.8" rx="1.6" ry="1.2" transform="rotate(132 427.1 33.8)" fill="#98060a"/><ellipse cx="437.3" cy="31.2" rx="1.9" ry="1.4" transform="rotate(32 437.3 31.2)" fill="#d8181a"/><ellipse cx="446.9" cy="29.0" rx="2.0" ry="1.7" transform="rotate(151 446.9 29.0)" fill="#b4080e"/><ellipse cx="455.3" cy="26.3" rx="2.1" ry="1.7" transform="rotate(92 455.3 26.3)" fill="#d8181a"/><ellipse cx="467.8" cy="22.1" rx="1.7" ry="1.1" transform="rotate(47 467.8 22.1)" fill="#b4080e"/><ellipse cx="478.3" cy="18.7" rx="2.2" ry="1.6" transform="rotate(117 478.3 18.7)" fill="#98060a"/><ellipse cx="520.3" cy="14.3" rx="1.4" ry="1.1" transform="rotate(114 520.3 14.3)" fill="#d8181a"/><ellipse cx="528.0" cy="12.8" rx="2.0" ry="1.3" transform="rotate(101 528.0 12.8)" fill="#98060a"/><ellipse cx="436.2" cy="53.6" rx="1.5" ry="1.2" transform="rotate(111 436.2 53.6)" fill="#cc1016"/><ellipse cx="441.7" cy="55.7" rx="1.6" ry="0.9" transform="rotate(64 441.7 55.7)" fill="#b4080e"/><ellipse cx="442.5" cy="50.6" rx="2.0" ry="1.6" transform="rotate(3 442.5 50.6)" fill="#98060a"/><ellipse cx="432.1" cy="54.4" rx="1.9" ry="1.5" transform="rotate(157 432.1 54.4)" fill="#b4080e"/><ellipse cx="432.7" cy="54.7" rx="1.7" ry="1.1" transform="rotate(69 432.7 54.7)" fill="#cc1016"/><ellipse cx="433.5" cy="53.3" rx="1.3" ry="0.9" transform="rotate(141 433.5 53.3)" fill="#98060a"/><ellipse cx="442.3" cy="52.9" rx="1.7" ry="1.1" transform="rotate(165 442.3 52.9)" fill="#b4080e"/><ellipse cx="436.4" cy="53.3" rx="1.5" ry="1.1" transform="rotate(27 436.4 53.3)" fill="#b4080e"/><ellipse cx="426.0" cy="52.1" rx="1.6" ry="1.0" transform="rotate(150 426.0 52.1)" fill="#98060a"/><ellipse cx="435.0" cy="50.5" rx="2.2" ry="1.6" transform="rotate(44 435.0 50.5)" fill="#d8181a"/><ellipse cx="428.9" cy="53.1" rx="1.7" ry="1.3" transform="rotate(77 428.9 53.1)" fill="#cc1016"/><ellipse cx="432.0" cy="53.0" rx="1.5" ry="1.0" transform="rotate(37 432.0 53.0)" fill="#cc1016"/><ellipse cx="429.1" cy="54.0" rx="1.6" ry="1.3" transform="rotate(57 429.1 54.0)" fill="#b4080e"/><ellipse cx="441.0" cy="52.8" rx="2.1" ry="1.6" transform="rotate(142 441.0 52.8)" fill="#b4080e"/><ellipse cx="430.6" cy="53.0" rx="1.5" ry="1.2" transform="rotate(162 430.6 53.0)" fill="#cc1016"/><ellipse cx="429.4" cy="55.8" rx="2.0" ry="1.5" transform="rotate(147 429.4 55.8)" fill="#a80a0e"/><ellipse cx="436.1" cy="56.5" rx="2.0" ry="1.4" transform="rotate(71 436.1 56.5)" fill="#d8181a"/><ellipse cx="443.7" cy="54.8" rx="2.2" ry="1.7" transform="rotate(8 443.7 54.8)" fill="#a80a0e"/><ellipse cx="441.5" cy="55.8" rx="1.9" ry="1.2" transform="rotate(30 441.5 55.8)" fill="#d8181a"/><ellipse cx="425.4" cy="51.5" rx="2.1" ry="1.4" transform="rotate(1 425.4 51.5)" fill="#cc1016"/><ellipse cx="415.5" cy="58.3" rx="1.4" ry="1.1" transform="rotate(141 415.5 58.3)" fill="#cc1016"/><ellipse cx="400.9" cy="56.8" rx="1.5" ry="1.1" transform="rotate(60 400.9 56.8)" fill="#a80a0e"/><ellipse cx="408.8" cy="55.3" rx="1.8" ry="1.1" transform="rotate(6 408.8 55.3)" fill="#a80a0e"/><ellipse cx="412.5" cy="60.0" rx="1.5" ry="1.2" transform="rotate(7 412.5 60.0)" fill="#b4080e"/><ellipse cx="408.6" cy="55.1" rx="1.3" ry="1.1" transform="rotate(149 408.6 55.1)" fill="#b4080e"/><ellipse cx="413.2" cy="57.3" rx="1.5" ry="1.3" transform="rotate(70 413.2 57.3)" fill="#d8181a"/><ellipse cx="411.1" cy="56.0" rx="1.4" ry="1.1" transform="rotate(144 411.1 56.0)" fill="#98060a"/><ellipse cx="402.7" cy="57.8" rx="2.1" ry="1.6" transform="rotate(12 402.7 57.8)" fill="#cc1016"/><ellipse cx="403.0" cy="55.1" rx="1.7" ry="1.1" transform="rotate(100 403.0 55.1)" fill="#98060a"/><ellipse cx="410.4" cy="56.8" rx="1.4" ry="1.0" transform="rotate(61 410.4 56.8)" fill="#a80a0e"/><ellipse cx="466.7" cy="44.0" rx="1.5" ry="1.1" transform="rotate(22 466.7 44.0)" fill="#b4080e"/><ellipse cx="457.6" cy="44.3" rx="1.7" ry="1.1" transform="rotate(44 457.6 44.3)" fill="#98060a"/><ellipse cx="460.6" cy="46.7" rx="2.2" ry="1.7" transform="rotate(122 460.6 46.7)" fill="#a80a0e"/><ellipse cx="472.2" cy="42.4" rx="2.1" ry="1.7" transform="rotate(102 472.2 42.4)" fill="#a80a0e"/><ellipse cx="467.8" cy="41.0" rx="1.7" ry="1.1" transform="rotate(139 467.8 41.0)" fill="#98060a"/><ellipse cx="471.8" cy="43.8" rx="1.7" ry="1.3" transform="rotate(122 471.8 43.8)" fill="#a80a0e"/><ellipse cx="470.2" cy="47.4" rx="1.6" ry="1.2" transform="rotate(63 470.2 47.4)" fill="#a80a0e"/><ellipse cx="468.1" cy="43.3" rx="1.9" ry="1.6" transform="rotate(59 468.1 43.3)" fill="#98060a"/><ellipse cx="463.5" cy="45.9" rx="1.3" ry="0.8" transform="rotate(171 463.5 45.9)" fill="#b4080e"/><ellipse cx="468.8" cy="40.6" rx="2.2" ry="1.4" transform="rotate(105 468.8 40.6)" fill="#d8181a"/><ellipse cx="460.7" cy="40.6" rx="1.4" ry="1.1" transform="rotate(178 460.7 40.6)" fill="#cc1016"/><ellipse cx="461.2" cy="41.3" rx="2.0" ry="1.5" transform="rotate(150 461.2 41.3)" fill="#98060a"/><ellipse cx="471.0" cy="41.4" rx="2.1" ry="1.4" transform="rotate(88 471.0 41.4)" fill="#cc1016"/><ellipse cx="464.2" cy="45.8" rx="1.6" ry="1.2" transform="rotate(179 464.2 45.8)" fill="#d8181a"/><ellipse cx="456.2" cy="43.8" rx="1.6" ry="1.1" transform="rotate(106 456.2 43.8)" fill="#98060a"/><ellipse cx="469.0" cy="46.7" rx="1.9" ry="1.5" transform="rotate(66 469.0 46.7)" fill="#d8181a"/><ellipse cx="463.2" cy="42.9" rx="1.4" ry="1.1" transform="rotate(178 463.2 42.9)" fill="#98060a"/><ellipse cx="461.6" cy="42.6" rx="1.4" ry="0.9" transform="rotate(40 461.6 42.6)" fill="#d8181a"/><ellipse cx="472.9" cy="41.8" rx="1.4" ry="0.9" transform="rotate(54 472.9 41.8)" fill="#b4080e"/><ellipse cx="470.6" cy="47.0" rx="1.9" ry="1.4" transform="rotate(173 470.6 47.0)" fill="#98060a"/><ellipse cx="470.9" cy="44.2" rx="2.0" ry="1.3" transform="rotate(171 470.9 44.2)" fill="#b4080e"/><ellipse cx="467.8" cy="44.7" rx="2.2" ry="1.5" transform="rotate(160 467.8 44.7)" fill="#cc1016"/><ellipse cx="465.1" cy="40.8" rx="2.2" ry="1.8" transform="rotate(129 465.1 40.8)" fill="#a80a0e"/><ellipse cx="465.7" cy="44.2" rx="2.1" ry="1.3" transform="rotate(74 465.7 44.2)" fill="#cc1016"/><ellipse cx="488.6" cy="74.5" rx="1.4" ry="0.9" transform="rotate(157 488.6 74.5)" fill="#98060a"/><ellipse cx="469.6" cy="81.1" rx="1.6" ry="1.1" transform="rotate(31 469.6 81.1)" fill="#b4080e"/><ellipse cx="479.5" cy="83.0" rx="2.1" ry="1.3" transform="rotate(173 479.5 83.0)" fill="#cc1016"/><ellipse cx="487.0" cy="84.3" rx="1.8" ry="1.1" transform="rotate(42 487.0 84.3)" fill="#b4080e"/><ellipse cx="467.7" cy="83.6" rx="1.5" ry="1.2" transform="rotate(179 467.7 83.6)" fill="#d8181a"/><ellipse cx="478.4" cy="86.6" rx="1.8" ry="1.1" transform="rotate(85 478.4 86.6)" fill="#98060a"/><ellipse cx="477.4" cy="91.8" rx="2.1" ry="1.6" transform="rotate(7 477.4 91.8)" fill="#cc1016"/><ellipse cx="481.4" cy="94.0" rx="1.9" ry="1.3" transform="rotate(161 481.4 94.0)" fill="#98060a"/><ellipse cx="483.7" cy="78.5" rx="1.5" ry="1.0" transform="rotate(19 483.7 78.5)" fill="#b4080e"/><ellipse cx="472.2" cy="76.2" rx="2.2" ry="1.5" transform="rotate(15 472.2 76.2)" fill="#b4080e"/><ellipse cx="469.4" cy="82.1" rx="1.8" ry="1.2" transform="rotate(36 469.4 82.1)" fill="#b4080e"/><ellipse cx="475.2" cy="90.6" rx="1.4" ry="1.0" transform="rotate(91 475.2 90.6)" fill="#a80a0e"/><ellipse cx="484.4" cy="79.1" rx="1.5" ry="1.0" transform="rotate(172 484.4 79.1)" fill="#b4080e"/><ellipse cx="496.2" cy="82.7" rx="1.5" ry="1.0" transform="rotate(133 496.2 82.7)" fill="#98060a"/><ellipse cx="485.7" cy="75.5" rx="1.6" ry="1.2" transform="rotate(6 485.7 75.5)" fill="#d8181a"/><ellipse cx="477.7" cy="82.1" rx="1.8" ry="1.3" transform="rotate(101 477.7 82.1)" fill="#98060a"/><ellipse cx="485.4" cy="71.4" rx="1.7" ry="1.1" transform="rotate(3 485.4 71.4)" fill="#d8181a"/><ellipse cx="490.1" cy="79.2" rx="2.0" ry="1.4" transform="rotate(113 490.1 79.2)" fill="#d8181a"/><ellipse cx="476.2" cy="91.2" rx="1.5" ry="1.1" transform="rotate(5 476.2 91.2)" fill="#98060a"/><ellipse cx="471.2" cy="75.2" rx="1.9" ry="1.4" transform="rotate(56 471.2 75.2)" fill="#cc1016"/><ellipse cx="471.6" cy="74.5" rx="2.1" ry="1.4" transform="rotate(39 471.6 74.5)" fill="#d8181a"/><ellipse cx="483.2" cy="71.6" rx="1.3" ry="1.0" transform="rotate(37 483.2 71.6)" fill="#b4080e"/><ellipse cx="482.6" cy="93.9" rx="1.4" ry="1.2" transform="rotate(53 482.6 93.9)" fill="#a80a0e"/><ellipse cx="476.3" cy="79.5" rx="2.0" ry="1.5" transform="rotate(179 476.3 79.5)" fill="#b4080e"/><ellipse cx="482.6" cy="70.4" rx="1.9" ry="1.3" transform="rotate(107 482.6 70.4)" fill="#98060a"/><ellipse cx="480.7" cy="70.6" rx="2.1" ry="1.7" transform="rotate(29 480.7 70.6)" fill="#cc1016"/><ellipse cx="485.7" cy="82.9" rx="1.4" ry="1.2" transform="rotate(167 485.7 82.9)" fill="#98060a"/><ellipse cx="478.1" cy="71.8" rx="2.1" ry="1.3" transform="rotate(36 478.1 71.8)" fill="#cc1016"/><ellipse cx="471.7" cy="88.3" rx="1.7" ry="1.2" transform="rotate(77 471.7 88.3)" fill="#d8181a"/><ellipse cx="489.8" cy="72.4" rx="1.3" ry="0.9" transform="rotate(39 489.8 72.4)" fill="#cc1016"/><ellipse cx="471.6" cy="91.1" rx="2.1" ry="1.7" transform="rotate(69 471.6 91.1)" fill="#a80a0e"/><ellipse cx="477.7" cy="69.8" rx="1.5" ry="1.0" transform="rotate(177 477.7 69.8)" fill="#cc1016"/><ellipse cx="487.8" cy="82.6" rx="1.6" ry="1.2" transform="rotate(58 487.8 82.6)" fill="#a80a0e"/><ellipse cx="478.5" cy="82.0" rx="1.6" ry="1.2" transform="rotate(71 478.5 82.0)" fill="#cc1016"/><ellipse cx="495.4" cy="81.7" rx="1.6" ry="1.0" transform="rotate(126 495.4 81.7)" fill="#d8181a"/><ellipse cx="496.8" cy="84.1" rx="2.0" ry="1.4" transform="rotate(21 496.8 84.1)" fill="#98060a"/><ellipse cx="478.8" cy="80.3" rx="1.4" ry="0.9" transform="rotate(122 478.8 80.3)" fill="#b4080e"/><ellipse cx="487.6" cy="91.3" rx="1.8" ry="1.4" transform="rotate(130 487.6 91.3)" fill="#b4080e"/><ellipse cx="475.9" cy="86.2" rx="1.8" ry="1.4" transform="rotate(24 475.9 86.2)" fill="#a80a0e"/><ellipse cx="479.5" cy="90.4" rx="1.6" ry="1.2" transform="rotate(31 479.5 90.4)" fill="#98060a"/><ellipse cx="496.0" cy="76.8" rx="1.9" ry="1.4" transform="rotate(62 496.0 76.8)" fill="#a80a0e"/><ellipse cx="475.6" cy="90.2" rx="1.8" ry="1.2" transform="rotate(155 475.6 90.2)" fill="#cc1016"/><ellipse cx="466.5" cy="82.4" rx="1.4" ry="1.0" transform="rotate(35 466.5 82.4)" fill="#cc1016"/><ellipse cx="490.9" cy="90.6" rx="1.8" ry="1.1" transform="rotate(148 490.9 90.6)" fill="#b4080e"/><ellipse cx="481.1" cy="79.3" rx="2.1" ry="1.3" transform="rotate(32 481.1 79.3)" fill="#a80a0e"/><ellipse cx="493.0" cy="85.2" rx="2.1" ry="1.4" transform="rotate(85 493.0 85.2)" fill="#98060a"/><ellipse cx="467.5" cy="79.9" rx="1.4" ry="0.9" transform="rotate(165 467.5 79.9)" fill="#b4080e"/><ellipse cx="494.4" cy="82.2" rx="2.1" ry="1.7" transform="rotate(13 494.4 82.2)" fill="#d8181a"/><ellipse cx="475.3" cy="71.6" rx="2.0" ry="1.2" transform="rotate(36 475.3 71.6)" fill="#cc1016"/><ellipse cx="485.2" cy="76.7" rx="2.1" ry="1.8" transform="rotate(180 485.2 76.7)" fill="#b4080e"/><ellipse cx="494.7" cy="73.8" rx="1.8" ry="1.3" transform="rotate(12 494.7 73.8)" fill="#a80a0e"/><ellipse cx="473.2" cy="73.8" rx="1.9" ry="1.4" transform="rotate(99 473.2 73.8)" fill="#b4080e"/><ellipse cx="492.3" cy="85.4" rx="1.4" ry="0.9" transform="rotate(137 492.3 85.4)" fill="#98060a"/><ellipse cx="468.2" cy="81.1" rx="1.4" ry="1.1" transform="rotate(104 468.2 81.1)" fill="#a80a0e"/><ellipse cx="497.0" cy="87.4" rx="1.4" ry="1.1" transform="rotate(98 497.0 87.4)" fill="#d8181a"/><ellipse cx="484.0" cy="72.1" rx="2.2" ry="1.4" transform="rotate(65 484.0 72.1)" fill="#d8181a"/><ellipse cx="482.2" cy="92.3" rx="1.5" ry="1.0" transform="rotate(117 482.2 92.3)" fill="#a80a0e"/><ellipse cx="494.5" cy="83.6" rx="2.2" ry="1.4" transform="rotate(106 494.5 83.6)" fill="#a80a0e"/><ellipse cx="479.5" cy="69.4" rx="1.7" ry="1.2" transform="rotate(55 479.5 69.4)" fill="#98060a"/><ellipse cx="497.1" cy="78.9" rx="1.9" ry="1.4" transform="rotate(111 497.1 78.9)" fill="#98060a"/><ellipse cx="472.6" cy="89.8" rx="1.6" ry="1.3" transform="rotate(144 472.6 89.8)" fill="#98060a"/><ellipse cx="477.1" cy="77.6" rx="1.7" ry="1.4" transform="rotate(56 477.1 77.6)" fill="#a80a0e"/><ellipse cx="497.8" cy="82.4" rx="1.3" ry="1.0" transform="rotate(100 497.8 82.4)" fill="#cc1016"/><ellipse cx="491.0" cy="78.1" rx="1.9" ry="1.3" transform="rotate(114 491.0 78.1)" fill="#d8181a"/><ellipse cx="480.7" cy="85.8" rx="2.0" ry="1.3" transform="rotate(10 480.7 85.8)" fill="#b4080e"/><ellipse cx="476.6" cy="85.3" rx="1.9" ry="1.2" transform="rotate(40 476.6 85.3)" fill="#98060a"/><ellipse cx="476.4" cy="88.4" rx="1.9" ry="1.1" transform="rotate(65 476.4 88.4)" fill="#d8181a"/><ellipse cx="471.3" cy="78.0" rx="2.1" ry="1.5" transform="rotate(132 471.3 78.0)" fill="#d8181a"/><ellipse cx="488.2" cy="89.3" rx="1.8" ry="1.4" transform="rotate(17 488.2 89.3)" fill="#b4080e"/><ellipse cx="490.1" cy="88.3" rx="2.0" ry="1.6" transform="rotate(159 490.1 88.3)" fill="#98060a"/><ellipse cx="474.3" cy="86.2" rx="2.0" ry="1.7" transform="rotate(131 474.3 86.2)" fill="#98060a"/><ellipse cx="494.3" cy="73.3" rx="2.0" ry="1.6" transform="rotate(78 494.3 73.3)" fill="#98060a"/><ellipse cx="491.3" cy="75.2" rx="1.9" ry="1.5" transform="rotate(51 491.3 75.2)" fill="#98060a"/><ellipse cx="470.0" cy="80.0" rx="2.0" ry="1.6" transform="rotate(123 470.0 80.0)" fill="#a80a0e"/><ellipse cx="486.7" cy="90.2" rx="2.1" ry="1.4" transform="rotate(76 486.7 90.2)" fill="#d8181a"/><ellipse cx="468.4" cy="79.9" rx="1.7" ry="1.5" transform="rotate(151 468.4 79.9)" fill="#d8181a"/><ellipse cx="483.0" cy="73.1" rx="2.0" ry="1.3" transform="rotate(25 483.0 73.1)" fill="#98060a"/><ellipse cx="489.2" cy="89.8" rx="2.2" ry="1.8" transform="rotate(175 489.2 89.8)" fill="#d8181a"/><ellipse cx="484.2" cy="70.6" rx="2.2" ry="1.8" transform="rotate(133 484.2 70.6)" fill="#98060a"/><ellipse cx="470.9" cy="73.8" rx="2.2" ry="1.8" transform="rotate(6 470.9 73.8)" fill="#d8181a"/><ellipse cx="481.6" cy="92.2" rx="1.5" ry="1.1" transform="rotate(32 481.6 92.2)" fill="#b4080e"/><ellipse cx="468.4" cy="84.7" rx="1.8" ry="1.1" transform="rotate(0 468.4 84.7)" fill="#cc1016"/><ellipse cx="482.9" cy="76.9" rx="2.0" ry="1.6" transform="rotate(103 482.9 76.9)" fill="#98060a"/><ellipse cx="485.8" cy="71.8" rx="1.3" ry="0.8" transform="rotate(133 485.8 71.8)" fill="#cc1016"/><ellipse cx="484.4" cy="93.5" rx="1.4" ry="1.0" transform="rotate(31 484.4 93.5)" fill="#b4080e"/><ellipse cx="489.4" cy="74.6" rx="1.5" ry="1.2" transform="rotate(90 489.4 74.6)" fill="#98060a"/><ellipse cx="474.5" cy="90.0" rx="1.8" ry="1.4" transform="rotate(165 474.5 90.0)" fill="#98060a"/><ellipse cx="474.4" cy="72.8" rx="1.9" ry="1.2" transform="rotate(10 474.4 72.8)" fill="#98060a"/><ellipse cx="485.3" cy="80.2" rx="2.0" ry="1.2" transform="rotate(128 485.3 80.2)" fill="#b4080e"/><ellipse cx="471.4" cy="82.5" rx="1.4" ry="1.1" transform="rotate(115 471.4 82.5)" fill="#b4080e"/><ellipse cx="472.8" cy="89.5" rx="2.0" ry="1.6" transform="rotate(77 472.8 89.5)" fill="#d8181a"/><ellipse cx="470.9" cy="92.2" rx="1.4" ry="0.9" transform="rotate(82 470.9 92.2)" fill="#a80a0e"/><ellipse cx="461.5" cy="93.6" rx="2.2" ry="1.5" transform="rotate(154 461.5 93.6)" fill="#98060a"/><ellipse cx="467.9" cy="93.4" rx="1.7" ry="1.2" transform="rotate(159 467.9 93.4)" fill="#98060a"/><ellipse cx="469.9" cy="88.9" rx="1.4" ry="1.0" transform="rotate(34 469.9 88.9)" fill="#cc1016"/><ellipse cx="465.8" cy="90.1" rx="1.8" ry="1.4" transform="rotate(110 465.8 90.1)" fill="#cc1016"/><ellipse cx="465.5" cy="92.5" rx="2.0" ry="1.6" transform="rotate(6 465.5 92.5)" fill="#a80a0e"/><ellipse cx="465.0" cy="93.4" rx="1.8" ry="1.2" transform="rotate(149 465.0 93.4)" fill="#cc1016"/><ellipse cx="471.8" cy="94.7" rx="1.7" ry="1.2" transform="rotate(49 471.8 94.7)" fill="#b4080e"/><ellipse cx="461.8" cy="95.3" rx="1.4" ry="1.0" transform="rotate(159 461.8 95.3)" fill="#98060a"/><ellipse cx="476.2" cy="91.7" rx="2.1" ry="1.5" transform="rotate(44 476.2 91.7)" fill="#cc1016"/><ellipse cx="467.1" cy="93.8" rx="1.5" ry="1.2" transform="rotate(84 467.1 93.8)" fill="#a80a0e"/><ellipse cx="464.6" cy="96.5" rx="2.0" ry="1.5" transform="rotate(77 464.6 96.5)" fill="#d8181a"/><ellipse cx="461.5" cy="96.7" rx="2.2" ry="1.7" transform="rotate(14 461.5 96.7)" fill="#d8181a"/><ellipse cx="462.9" cy="93.2" rx="1.4" ry="1.1" transform="rotate(135 462.9 93.2)" fill="#a80a0e"/><ellipse cx="461.0" cy="92.9" rx="2.2" ry="1.3" transform="rotate(67 461.0 92.9)" fill="#a80a0e"/><ellipse cx="472.5" cy="94.6" rx="1.3" ry="0.9" transform="rotate(160 472.5 94.6)" fill="#d8181a"/><ellipse cx="466.2" cy="93.1" rx="1.5" ry="1.0" transform="rotate(96 466.2 93.1)" fill="#cc1016"/><ellipse cx="460.0" cy="93.8" rx="1.6" ry="1.0" transform="rotate(79 460.0 93.8)" fill="#b4080e"/><ellipse cx="467.4" cy="89.2" rx="2.0" ry="1.5" transform="rotate(134 467.4 89.2)" fill="#b4080e"/><ellipse cx="435.5" cy="93.7" rx="2.0" ry="1.7" transform="rotate(10 435.5 93.7)" fill="#98060a"/><ellipse cx="446.5" cy="94.8" rx="1.7" ry="1.2" transform="rotate(63 446.5 94.8)" fill="#98060a"/><ellipse cx="438.9" cy="94.3" rx="2.0" ry="1.2" transform="rotate(73 438.9 94.3)" fill="#98060a"/><ellipse cx="440.7" cy="91.5" rx="2.1" ry="1.5" transform="rotate(65 440.7 91.5)" fill="#a80a0e"/><ellipse cx="445.6" cy="95.6" rx="1.4" ry="1.1" transform="rotate(92 445.6 95.6)" fill="#cc1016"/><ellipse cx="446.1" cy="94.9" rx="2.0" ry="1.2" transform="rotate(123 446.1 94.9)" fill="#98060a"/><ellipse cx="437.5" cy="93.0" rx="2.0" ry="1.4" transform="rotate(49 437.5 93.0)" fill="#cc1016"/><ellipse cx="447.6" cy="93.7" rx="1.3" ry="0.8" transform="rotate(73 447.6 93.7)" fill="#98060a"/><ellipse cx="432.8" cy="93.0" rx="2.0" ry="1.7" transform="rotate(114 432.8 93.0)" fill="#98060a"/><ellipse cx="432.7" cy="93.3" rx="2.1" ry="1.5" transform="rotate(159 432.7 93.3)" fill="#98060a"/><ellipse cx="439.9" cy="95.5" rx="1.6" ry="1.2" transform="rotate(32 439.9 95.5)" fill="#98060a"/><ellipse cx="436.4" cy="93.4" rx="1.4" ry="1.0" transform="rotate(108 436.4 93.4)" fill="#d8181a"/><ellipse cx="401.4" cy="94.6" rx="1.7" ry="1.3" transform="rotate(94 401.4 94.6)" fill="#d8181a"/><ellipse cx="395.7" cy="94.1" rx="1.9" ry="1.4" transform="rotate(31 395.7 94.1)" fill="#98060a"/><ellipse cx="402.9" cy="93.8" rx="1.4" ry="1.1" transform="rotate(108 402.9 93.8)" fill="#a80a0e"/><ellipse cx="399.1" cy="94.0" rx="1.9" ry="1.5" transform="rotate(163 399.1 94.0)" fill="#d8181a"/><ellipse cx="399.8" cy="96.4" rx="1.8" ry="1.1" transform="rotate(141 399.8 96.4)" fill="#d8181a"/>
</g>
</g>
<!-- heart box -->
<g id="heart">
<rect x="17.5" y="134" width="95" height="109.5" fill="#fff"/>
<defs>
<radialGradient id="hg" cx="0.25" cy="0.22" r="0.8">
<stop offset="0" stop-color="#e8141e"/><stop offset="0.12" stop-color="#b8101a"/><stop offset="0.4" stop-color="#920d14"/><stop offset="1" stop-color="#7e0a10"/>
</radialGradient>
</defs>
<g transform="translate(17,134) scale(0.26230)">
<path d="M120,48 C100,5 40,0 15,35 C-5,65 5,115 40,150 C65,178 100,200 120,218 C140,200 175,178 200,150 C235,115 245,65 225,35 C200,0 140,5 120,48 Z" fill="none" stroke="#8e0e14" stroke-width="7"/>
<path d="M120,58 C100,18 45,12 23,42 C6,68 14,112 46,143 C70,167 100,187 120,205 C140,187 170,167 194,143 C226,112 234,68 217,42 C195,12 140,18 120,58 Z" fill="url(#hg)"/>
<path d="M110,218 L130,218 L128,226 L112,226 Z" fill="#9a0f16"/>
<rect x="95" y="224" width="50" height="15" rx="4" fill="#9a0f16"/>
<path d="M120,238 L120,345 C120,370 140,385 165,378 C185,370 185,345 165,345 C145,345 145,375 175,383 C210,392 250,388 285,385" fill="none" stroke="#8e0e14" stroke-width="7"/>
<rect x="270" y="364" width="32" height="18" rx="3" fill="#9a0f16"/>
<circle cx="286" cy="291" r="70" fill="#fff" stroke="#8e0e14" stroke-width="8"/>
<path d="M240,310 A50,50 0 0 1 286,241" fill="none" stroke="#c4141c" stroke-width="8"/>
<path d="M292,241 A50,50 0 0 1 336,300" fill="none" stroke="#8e0e14" stroke-width="8"/>
<path d="M244,318 A50,50 0 0 0 275,340" fill="none" stroke="#f06070" stroke-width="8"/>
<path d="M265,315 L292,290" stroke="#8e0e14" stroke-width="7" stroke-linecap="round"/>
<circle cx="293" cy="289" r="5" fill="#9a0f16"/>
</g>
</g>
<!-- blue rounded rect -->
<rect x="137" y="139.25" width="341.1" height="138.45" rx="20" fill="none" stroke="#5888ee" stroke-width="2.6"/>
<!-- fish box -->
<g id="fish">
<rect x="140" y="162" width="129.5" height="92.5" fill="#fff"/>
<!-- scallop -->
<g transform="translate(140,162) scale(0.1147)">
<clipPath id="scl"><path d="M185,300 C120,300 72,245 78,180 C85,120 140,85 192,88 C252,90 300,132 298,192 C295,252 250,298 185,300 Z"/></clipPath>
<path d="M185,300 C120,300 72,245 78,180 C85,120 140,85 192,88 C252,90 300,132 298,192 C295,252 250,298 185,300 Z" fill="#ded2c4" stroke="#b0a294" stroke-width="6"/>
<g stroke="#b4a496" stroke-width="9" clip-path="url(#scl)"><path d="M185,292 L-13,239"/><path d="M185,292 L14,179"/><path d="M185,292 L59,130"/><path d="M185,292 L117,99"/><path d="M185,292 L181,87"/><path d="M185,292 L247,96"/><path d="M185,292 L305,126"/><path d="M185,292 L352,173"/><path d="M185,292 L381,232"/></g>
<g stroke="#f4ece4" stroke-width="6" clip-path="url(#scl)" transform="rotate(8 185 292)"><path d="M185,292 L-13,239"/><path d="M185,292 L14,179"/><path d="M185,292 L59,130"/><path d="M185,292 L117,99"/><path d="M185,292 L181,87"/><path d="M185,292 L247,96"/><path d="M185,292 L305,126"/><path d="M185,292 L352,173"/><path d="M185,292 L381,232"/></g>
<path d="M140,280 L230,280 L215,310 L160,310 Z" fill="#e4d8cc" stroke="#b0a294" stroke-width="5"/>
<path d="M178,368 L240,322 C252,290 292,282 322,298 C346,322 340,362 310,376 C280,386 240,372 178,368 Z" fill="#f8c4a8" stroke="#eaa88c" stroke-width="5"/>
<path d="M300,242 C292,200 322,180 372,180 L520,190 C534,197 522,216 500,226 C470,262 420,302 362,306 C322,306 302,282 300,242 Z" fill="#f5b6c8" stroke="#de98ae" stroke-width="6"/>
<path d="M330,230 C350,200 400,200 420,240 M400,190 C430,210 450,230 470,220" fill="none" stroke="#de98ae" stroke-width="5"/>
</g>
<!-- salmon + starfish + cucumber -->
<g transform="translate(195,162) scale(0.11755)">
<path d="M240,100 L265,62 L285,105 Z" fill="#6a6458"/>
<path d="M360,160 L418,128 C428,128 425,150 410,170 C398,195 398,220 392,238 C385,248 372,240 364,220 L348,190 Z" fill="#8c7c6c"/>
<path d="M58,165 C100,128 185,100 282,110 C330,116 358,140 372,158 L352,192 C322,206 262,222 200,226 C150,230 100,215 70,202 C52,190 48,176 58,165 Z" fill="#cbc8e0" stroke="#3a3a42" stroke-width="5"/>
<path d="M58,165 C100,128 185,100 282,110 C330,116 358,140 372,158 C330,140 260,130 180,140 C130,148 90,160 58,165 Z" fill="#3c3c44"/>
<path d="M110,210 C170,220 260,205 350,182 C340,200 280,215 200,230 C160,232 130,225 110,210 Z" fill="#e8c040"/>
<path d="M240,222 L262,248 L280,220 L300,240 L318,212 L335,232 L345,196 Z" fill="#e8803a"/>
<path d="M180,222 L200,262 L220,226 Z" fill="#e0a838"/>
<circle cx="118" cy="155" r="12" fill="#d8c040" stroke="#333" stroke-width="4"/>
<path d="M62,208 C80,218 100,218 120,210" fill="none" stroke="#333" stroke-width="5"/>
<path d="M479,138 L521,208 L588,184 L550,250 L588,324 L518,289 L471,359 L474,273 L394,248 L475,222Z" fill="#f8c820" stroke="#f8d030" stroke-width="22" stroke-linejoin="round"/>
<path d="M481,146 L519,214 L582,189 L544,249 L582,318 L517,283 L474,351 L479,269 L402,248 L479,226Z" fill="#f47010" stroke="#f47010" stroke-width="8" stroke-linejoin="round"/>
<path d="M485,160 L515,227 L572,197 L530,249 L572,309 L513,269 L478,337 L490,261 L416,248 L491,235Z" fill="#e83a12" stroke-linejoin="round"/>
<path d="M2,330 C20,285 120,265 200,268 C252,272 278,300 268,326 C242,352 152,372 62,382 C20,386 -6,360 2,330 Z" fill="#7e3c1c" stroke="#4a2210" stroke-width="5"/>
<g fill="#4a200e"><circle cx="240" cy="361" r="6"/><circle cx="33" cy="292" r="6"/><circle cx="212" cy="344" r="6"/><circle cx="174" cy="310" r="6"/><circle cx="159" cy="334" r="6"/><circle cx="154" cy="298" r="6"/><circle cx="119" cy="316" r="6"/><circle cx="186" cy="365" r="6"/><circle cx="238" cy="329" r="6"/><circle cx="122" cy="306" r="6"/><circle cx="28" cy="287" r="6"/><circle cx="127" cy="310" r="6"/><circle cx="107" cy="356" r="6"/><circle cx="141" cy="330" r="6"/><circle cx="74" cy="287" r="6"/><circle cx="95" cy="296" r="6"/><circle cx="137" cy="365" r="6"/><circle cx="175" cy="300" r="6"/><circle cx="226" cy="349" r="6"/><circle cx="189" cy="358" r="6"/><circle cx="195" cy="348" r="6"/><circle cx="101" cy="363" r="6"/><circle cx="241" cy="298" r="6"/><circle cx="193" cy="342" r="6"/><circle cx="126" cy="327" r="6"/><circle cx="133" cy="359" r="6"/><circle cx="135" cy="352" r="6"/><circle cx="101" cy="356" r="6"/><circle cx="227" cy="322" r="6"/><circle cx="151" cy="359" r="6"/><circle cx="186" cy="324" r="6"/><circle cx="71" cy="311" r="6"/><circle cx="181" cy="298" r="6"/><circle cx="229" cy="306" r="6"/><circle cx="230" cy="310" r="6"/><circle cx="240" cy="341" r="6"/><circle cx="136" cy="326" r="6"/><circle cx="170" cy="332" r="6"/><circle cx="92" cy="302" r="6"/><circle cx="138" cy="360" r="6"/><circle cx="163" cy="291" r="6"/><circle cx="209" cy="343" r="6"/><circle cx="229" cy="300" r="6"/><circle cx="191" cy="290" r="6"/><circle cx="170" cy="307" r="6"/></g>
</g>
<!-- teal fish + squid -->
<g transform="translate(140,205) scale(0.11926)">
<path d="M120,210 L122,175 L142,205 L149,146 L169,176 L176,118 L196,148 L203,93 L223,123 L231,73 L251,103 L258,56 L278,86 L285,42 L305,72 L312,30 L332,60 L330,70 Z" fill="#1e9a8c"/>
<path d="M100,262 L18,212 C42,250 52,275 28,348 L105,292 Z" fill="#1a8a84"/>
<path d="M92,272 C128,182 218,82 330,56 C402,50 462,100 462,162 C457,230 402,282 322,306 C232,322 150,306 92,272 Z" fill="#22a494"/>
<path d="M108,278 C180,236 270,196 330,168 C350,205 400,225 440,205 C418,262 362,296 302,306 C222,316 150,302 108,278 Z" fill="#f0deb0"/>
<path d="M320,150 C310,190 330,220 390,240" fill="none" stroke="#127a72" stroke-width="8"/>
<path d="M222,278 C240,240 270,222 300,215 C295,250 270,280 222,278 Z" fill="#127a76"/>
<path d="M140,300 L170,330 L220,320 Z M280,300 L320,320 L330,295 Z" fill="#168a84"/>
<circle cx="396" cy="125" r="16" fill="#f0c020" stroke="#127a72" stroke-width="4"/>
<path d="M410,112 L438,118 L420,132 Z" fill="#f0b020"/>
<path d="M160,210 C220,160 290,120 360,110" fill="none" stroke="#5cc8bc" stroke-width="5" stroke-dasharray="6 10"/>
<path d="M545,172 C520,175 470,200 445,235 C430,258 425,280 430,300 C450,300 480,280 505,250 C525,225 545,200 545,172 Z" fill="#c8a4ae" stroke="#9a7a86" stroke-width="5"/>
<g fill="none" stroke="#a88894" stroke-width="7" stroke-linecap="round">
<path d="M432,300 C420,330 400,350 390,380"/><path d="M440,302 C440,330 430,360 420,378"/>
<path d="M450,298 C465,320 480,330 505,330"/><path d="M445,300 C455,330 470,350 465,385"/>
<path d="M428,295 C405,310 398,330 405,345"/>
</g>
</g>
<!-- mussels + shrimps -->
<g transform="translate(200,205) scale(0.11925)">
<path d="M20,62 C42,30 112,35 162,96 C142,102 152,142 142,168 C120,182 70,162 40,122 C20,96 14,76 20,62 Z" fill="#2c382c"/>
<path d="M30,80 C50,60 100,70 130,110 C150,140 145,165 125,165 C90,160 50,130 30,80 Z" fill="#b4bccc"/>
<ellipse cx="80" cy="108" rx="22" ry="42" transform="rotate(-35 80 108)" fill="#e0a05c" stroke="#a06830" stroke-width="3"/>
<ellipse cx="220" cy="72" rx="32" ry="66" transform="rotate(12 220 72)" fill="#4e6c3c" stroke="#1e2a1a" stroke-width="6"/>
<path d="M278,88 C300,70 360,90 395,130 C410,150 400,165 380,160 C340,155 290,130 278,88 Z" fill="#2c382c"/>
<path d="M292,95 C320,85 360,100 385,135 C360,145 310,125 292,95 Z" fill="#aab4c0"/>
<path d="M350,20 C360,-5 400,0 415,40 C428,80 425,130 405,155 C380,160 355,130 350,90 C345,60 345,35 350,20 Z" fill="#c4c8cc" stroke="#2c382c" stroke-width="7"/>
<path d="M360,85 C375,75 400,80 405,110 C400,135 370,130 360,110 Z" fill="#dca064"/>
<g fill="none" stroke="#f4a090" stroke-width="4">
<path d="M390,185 C450,150 520,150 550,210"/><path d="M400,190 C480,175 500,230 450,330"/>
</g>
<g id="shrimp">
<path d="M150,250 C170,240 200,235 230,240 C210,270 190,300 170,330 C150,320 140,290 150,250Z" fill="#fde0c0"/><path d="M150,260 L175,300 M140,280 L170,320 M160,245 L190,285 M175,235 L205,270" stroke="#f8b070" stroke-width="6" stroke-linecap="round"/>
<path d="M268,208 C230,190 160,192 118,238 C85,275 88,340 130,372 C165,395 215,380 240,342" fill="none" stroke="#f48a22" stroke-width="58" stroke-linecap="round"/>
<path d="M255,196 C215,182 155,190 115,232 C90,262 88,300 98,330" fill="none" stroke="#f9ae58" stroke-width="18" stroke-linecap="round"/>
<g stroke="#e06c10" stroke-width="3" fill="none">
<path d="M215,178 L205,215 M175,185 L170,222 M140,205 L150,238 M112,240 L135,262 M95,285 L122,290 M98,330 L128,322 M125,365 L145,345 M170,385 L175,358"/>
</g>
<path d="M235,330 L272,318 L262,350 Z" fill="#f07a18"/>
<circle cx="262" cy="200" r="7" fill="#333"/>
<path d="M140,328 C132,345 150,356 172,350" fill="none" stroke="#fff" stroke-width="7"/>
</g>
<use href="#shrimp" transform="translate(160,-12)"/>
</g>
</g>
<!-- red rects -->
<rect x="279.8" y="198.5" width="11.85" height="26.8" fill="none" stroke="#f00" stroke-width="3"/>
<rect x="363.45" y="166.45" width="70.5" height="33.9" fill="none" stroke="#f00" stroke-width="3.1"/>
<rect x="436.5" y="224.4" width="17.1" height="24.9" fill="none" stroke="#f00" stroke-width="3"/>
<!-- kidney -->
<g id="kidney">
<defs>
<g id="kid">
<path d="M125,18 C70,18 18,80 18,170 C18,265 70,325 125,325 C165,325 182,300 170,262 C160,238 148,225 152,205 C156,180 175,160 195,145 C210,130 215,115 215,90 C215,45 180,18 125,18 Z" fill="#fde3c6" stroke="#b85e18" stroke-width="4"/>
<g stroke="#c4661c" stroke-width="30" stroke-linecap="round">
<path d="M160,185 L105,90"/><path d="M160,185 L152,80"/><path d="M160,185 L85,122"/>
<path d="M160,185 L62,178"/><path d="M160,185 L68,238"/><path d="M160,195 L108,262"/>
</g>
<path d="M115,135 C150,125 195,140 206,172 C206,250 202,330 200,390 L180,390 C178,320 176,260 160,240 C130,225 100,200 100,170 C100,150 105,138 115,135 Z" fill="#c4661c"/>
<g fill="#f8c79e" stroke="#c4661c" stroke-width="2" stroke-dasharray="4 3">
<circle cx="103" cy="84" r="23"/><circle cx="155" cy="74" r="21"/><circle cx="78" cy="122" r="21"/>
<circle cx="57" cy="178" r="23"/><circle cx="63" cy="238" r="22"/><circle cx="108" cy="265" r="22"/>
</g>
<g stroke="#fff" stroke-width="5" stroke-linecap="round">
<path d="M128,88 L140,118"/><path d="M100,128 L125,142"/><path d="M80,200 L110,198"/><path d="M92,252 L112,232"/>
</g>
</g>
</defs>
<use href="#kid" transform="translate(500,155) scale(0.2146)"/>
<use href="#kid" transform="translate(594.3,155) scale(-0.184,0.2146)"/>
</g>
<!-- amoeba -->
<g id="amoeba">
<defs>
<radialGradient id="amnuc" cx="0.4" cy="0.35" r="0.65"><stop offset="0" stop-color="#fff"/><stop offset="0.5" stop-color="#fde8e8"/><stop offset="1" stop-color="#e88e90"/></radialGradient>
<radialGradient id="amv" cx="0.45" cy="0.4" r="0.6"><stop offset="0" stop-color="#fff"/><stop offset="0.6" stop-color="#f4c4c4"/><stop offset="1" stop-color="#a05050"/></radialGradient>
<radialGradient id="amcy" cx="0.5" cy="0.5" r="0.5"><stop offset="0" stop-color="#ffffff"/><stop offset="0.5" stop-color="#c8f8f8"/><stop offset="1" stop-color="#40e8e8" stop-opacity="0"/></radialGradient>
</defs>
<g transform="translate(60,320) scale(0.191)">
<g stroke-linecap="round"><path d="M121,206 L124,227" stroke="#19e6e6" stroke-width="5.8"/><path d="M136,193 L164,225" stroke="#19e6e6" stroke-width="4.6"/><path d="M97,173 L43,187" stroke="#9ff8f8" stroke-width="3.8"/><path d="M123,173 L162,198" stroke="#9ff8f8" stroke-width="4.1"/><path d="M79,174 L32,181" stroke="#19e6e6" stroke-width="5.7"/><path d="M118,168 L195,164" stroke="#c8fafa" stroke-width="4.5"/><path d="M124,171 L170,189" stroke="#00e0e8" stroke-width="6.6"/><path d="M134,154 L164,133" stroke="#19e6e6" stroke-width="3.3"/><path d="M107,169 L22,175" stroke="#c8fafa" stroke-width="5.3"/><path d="M100,159 L48,129" stroke="#9ff8f8" stroke-width="6.4"/><path d="M135,191 L154,212" stroke="#c8fafa" stroke-width="5.8"/><path d="M99,188 L68,227" stroke="#00d8dc" stroke-width="5.5"/><path d="M127,185 L159,229" stroke="#00e0e8" stroke-width="3.3"/><path d="M134,157 L174,132" stroke="#00d8dc" stroke-width="6.6"/><path d="M109,177 L75,228" stroke="#c8fafa" stroke-width="4.5"/><path d="M120,164 L170,123" stroke="#c8fafa" stroke-width="3.7"/><path d="M116,167 L171,93" stroke="#19e6e6" stroke-width="3.6"/><path d="M145,171 L183,174" stroke="#9ff8f8" stroke-width="3.7"/><path d="M120,165 L179,124" stroke="#19e6e6" stroke-width="4.6"/><path d="M105,162 L65,137" stroke="#19e6e6" stroke-width="3.3"/><path d="M117,147 L120,107" stroke="#9ff8f8" stroke-width="6.7"/><path d="M105,130 L100,112" stroke="#30f0f0" stroke-width="3.1"/><path d="M101,190 L83,218" stroke="#00d8dc" stroke-width="4.2"/><path d="M115,168 L201,149" stroke="#00e0e8" stroke-width="3.8"/><path d="M153,176 L199,186" stroke="#00e0e8" stroke-width="7.0"/><path d="M121,180 L149,232" stroke="#30f0f0" stroke-width="3.5"/><path d="M99,156 L57,123" stroke="#19e6e6" stroke-width="3.6"/><path d="M137,186 L178,219" stroke="#00e0e8" stroke-width="5.9"/><path d="M111,140 L104,95" stroke="#00d8dc" stroke-width="4.6"/><path d="M113,169 L60,184" stroke="#30f0f0" stroke-width="3.4"/><path d="M111,140 L103,90" stroke="#00d8dc" stroke-width="3.1"/><path d="M125,149 L160,85" stroke="#00e0e8" stroke-width="6.0"/><path d="M87,168 L52,167" stroke="#00e0e8" stroke-width="3.9"/><path d="M99,182 L68,210" stroke="#00d8dc" stroke-width="4.2"/><path d="M140,152 L192,118" stroke="#30f0f0" stroke-width="6.9"/><path d="M113,166 L67,115" stroke="#c8fafa" stroke-width="6.0"/><path d="M127,151 L162,103" stroke="#00d8dc" stroke-width="6.8"/><path d="M112,164 L72,107" stroke="#00e0e8" stroke-width="4.5"/><path d="M122,158 L153,113" stroke="#c8fafa" stroke-width="5.5"/><path d="M88,164 L47,158" stroke="#00e0e8" stroke-width="5.7"/><path d="M104,181 L67,225" stroke="#19e6e6" stroke-width="5.1"/><path d="M115,171 L105,252" stroke="#9ff8f8" stroke-width="4.1"/><path d="M120,143 L132,82" stroke="#00d8dc" stroke-width="6.9"/><path d="M122,149 L137,106" stroke="#9ff8f8" stroke-width="6.6"/><path d="M115,178 L117,233" stroke="#9ff8f8" stroke-width="5.0"/><path d="M115,201 L115,247" stroke="#00d8dc" stroke-width="6.3"/><path d="M111,168 L56,169" stroke="#30f0f0" stroke-width="3.3"/><path d="M123,129 L132,78" stroke="#30f0f0" stroke-width="6.1"/><path d="M123,169 L180,177" stroke="#9ff8f8" stroke-width="3.4"/><path d="M140,141 L177,100" stroke="#00e0e8" stroke-width="3.4"/><path d="M90,199 L79,213" stroke="#19e6e6" stroke-width="6.2"/><path d="M132,148 L159,114" stroke="#30f0f0" stroke-width="6.3"/><path d="M111,144 L104,101" stroke="#00d8dc" stroke-width="4.2"/><path d="M118,167 L204,149" stroke="#00e0e8" stroke-width="6.7"/><path d="M111,173 L77,221" stroke="#9ff8f8" stroke-width="4.6"/><path d="M115,165 L104,92" stroke="#30f0f0" stroke-width="3.3"/><path d="M111,175 L67,247" stroke="#c8fafa" stroke-width="3.2"/><path d="M118,174 L150,240" stroke="#30f0f0" stroke-width="4.2"/><path d="M113,149 L108,91" stroke="#30f0f0" stroke-width="6.7"/><path d="M120,166 L177,139" stroke="#30f0f0" stroke-width="4.6"/><path d="M127,181 L170,230" stroke="#c8fafa" stroke-width="4.8"/><path d="M102,157 L45,107" stroke="#c8fafa" stroke-width="5.3"/><path d="M139,155 L198,124" stroke="#00d8dc" stroke-width="5.0"/><path d="M112,137 L109,106" stroke="#9ff8f8" stroke-width="4.1"/><path d="M132,139 L148,111" stroke="#00e0e8" stroke-width="5.5"/><path d="M78,160 L50,154" stroke="#00e0e8" stroke-width="3.9"/><path d="M111,171 L57,215" stroke="#00d8dc" stroke-width="4.9"/><path d="M114,169 L60,211" stroke="#00d8dc" stroke-width="6.8"/><path d="M114,169 L48,235" stroke="#19e6e6" stroke-width="6.3"/><path d="M121,172 L184,206" stroke="#9ff8f8" stroke-width="3.5"/><path d="M94,159 L32,133" stroke="#00e0e8" stroke-width="4.5"/><path d="M138,174 L194,188" stroke="#00d8dc" stroke-width="6.9"/><path d="M125,176 L161,205" stroke="#c8fafa" stroke-width="6.4"/><path d="M116,183 L121,237" stroke="#9ff8f8" stroke-width="4.5"/><path d="M97,186 L75,208" stroke="#c8fafa" stroke-width="3.6"/><path d="M101,146 L85,119" stroke="#00e0e8" stroke-width="6.8"/><path d="M106,179 L65,228" stroke="#c8fafa" stroke-width="4.2"/><path d="M115,169 L108,240" stroke="#c8fafa" stroke-width="4.2"/><path d="M113,202 L110,234" stroke="#9ff8f8" stroke-width="6.4"/><path d="M113,165 L65,92" stroke="#30f0f0" stroke-width="4.8"/><path d="M89,154 L54,135" stroke="#9ff8f8" stroke-width="5.4"/><path d="M100,185 L74,216" stroke="#00e0e8" stroke-width="5.1"/><path d="M118,173 L156,246" stroke="#c8fafa" stroke-width="3.4"/><path d="M115,159 L120,88" stroke="#30f0f0" stroke-width="4.0"/><path d="M116,168 L185,148" stroke="#00d8dc" stroke-width="6.3"/><path d="M100,204 L82,246" stroke="#00e0e8" stroke-width="6.0"/><path d="M111,180 L97,222" stroke="#00d8dc" stroke-width="3.9"/><path d="M125,155 L171,96" stroke="#c8fafa" stroke-width="3.0"/><path d="M132,180 L176,210" stroke="#c8fafa" stroke-width="6.9"/><path d="M122,153 L140,114" stroke="#19e6e6" stroke-width="5.0"/><path d="M132,191 L172,242" stroke="#00d8dc" stroke-width="5.7"/><path d="M131,161 L167,146" stroke="#c8fafa" stroke-width="4.6"/><path d="M115,169 L133,223" stroke="#c8fafa" stroke-width="5.0"/><path d="M116,170 L162,243" stroke="#00d8dc" stroke-width="4.2"/><path d="M91,165 L44,158" stroke="#c8fafa" stroke-width="3.8"/><path d="M112,160 L95,112" stroke="#9ff8f8" stroke-width="6.1"/><path d="M133,195 L151,222" stroke="#9ff8f8" stroke-width="6.6"/><path d="M104,185 L64,243" stroke="#9ff8f8" stroke-width="5.7"/><path d="M141,140 L169,110" stroke="#9ff8f8" stroke-width="5.5"/><path d="M132,180 L171,207" stroke="#00e0e8" stroke-width="6.8"/><path d="M116,177 L120,252" stroke="#30f0f0" stroke-width="5.4"/><path d="M112,172 L70,241" stroke="#00d8dc" stroke-width="3.3"/><path d="M121,168 L179,165" stroke="#19e6e6" stroke-width="5.4"/><path d="M129,160 L191,127" stroke="#9ff8f8" stroke-width="3.5"/><path d="M99,135 L76,88" stroke="#19e6e6" stroke-width="4.6"/><path d="M93,170 L25,175" stroke="#30f0f0" stroke-width="6.9"/><path d="M116,168 L198,177" stroke="#00d8dc" stroke-width="5.8"/><path d="M102,182 L61,224" stroke="#19e6e6" stroke-width="5.4"/><path d="M132,174 L170,188" stroke="#30f0f0" stroke-width="3.1"/><path d="M113,166 L69,118" stroke="#00d8dc" stroke-width="4.5"/><path d="M137,157 L198,125" stroke="#00d8dc" stroke-width="5.9"/><path d="M88,140 L51,101" stroke="#9ff8f8" stroke-width="4.9"/><path d="M107,163 L40,124" stroke="#c8fafa" stroke-width="6.9"/><path d="M144,179 L191,197" stroke="#00e0e8" stroke-width="6.8"/><path d="M83,173 L54,178" stroke="#00e0e8" stroke-width="3.5"/><path d="M87,166 L24,162" stroke="#00e0e8" stroke-width="5.9"/><path d="M100,163 L58,151" stroke="#00d8dc" stroke-width="5.2"/><path d="M132,195 L164,244" stroke="#00e0e8" stroke-width="4.4"/><path d="M130,174 L203,200" stroke="#30f0f0" stroke-width="3.3"/><path d="M88,159 L37,142" stroke="#c8fafa" stroke-width="4.8"/><path d="M133,161 L169,148" stroke="#00d8dc" stroke-width="3.3"/><path d="M129,175 L185,200" stroke="#c8fafa" stroke-width="3.7"/><path d="M92,170 L32,176" stroke="#9ff8f8" stroke-width="4.8"/><path d="M129,171 L174,179" stroke="#00e0e8" stroke-width="5.1"/><path d="M119,169 L197,189" stroke="#19e6e6" stroke-width="4.0"/><path d="M143,189 L172,212" stroke="#c8fafa" stroke-width="4.8"/><path d="M116,167 L149,118" stroke="#00d8dc" stroke-width="4.8"/><path d="M97,136 L80,105" stroke="#9ff8f8" stroke-width="3.4"/><path d="M88,173 L45,181" stroke="#19e6e6" stroke-width="3.5"/><path d="M113,159 L103,106" stroke="#c8fafa" stroke-width="5.4"/><path d="M134,137 L148,114" stroke="#00d8dc" stroke-width="5.1"/><path d="M130,167 L202,160" stroke="#00e0e8" stroke-width="5.0"/><path d="M123,153 L155,94" stroke="#9ff8f8" stroke-width="3.5"/><path d="M135,156 L194,122" stroke="#30f0f0" stroke-width="3.9"/><path d="M103,152 L59,97" stroke="#19e6e6" stroke-width="5.2"/><path d="M104,172 L61,189" stroke="#9ff8f8" stroke-width="4.8"/><path d="M97,176 L56,193" stroke="#19e6e6" stroke-width="6.6"/><path d="M134,156 L165,136" stroke="#00e0e8" stroke-width="5.2"/><path d="M97,189 L79,210" stroke="#c8fafa" stroke-width="4.0"/><path d="M97,187 L72,213" stroke="#9ff8f8" stroke-width="3.3"/><path d="M117,167 L167,147" stroke="#19e6e6" stroke-width="5.9"/><path d="M111,177 L75,254" stroke="#00d8dc" stroke-width="6.4"/><path d="M123,143 L137,102" stroke="#c8fafa" stroke-width="3.3"/><path d="M133,158 L173,135" stroke="#9ff8f8" stroke-width="5.5"/><path d="M116,168 L199,184" stroke="#00e0e8" stroke-width="4.3"/><path d="M111,207 L105,260" stroke="#00e0e8" stroke-width="6.5"/><path d="M100,182 L50,229" stroke="#c8fafa" stroke-width="4.3"/><path d="M107,159 L76,128" stroke="#19e6e6" stroke-width="4.1"/><path d="M90,164 L29,153" stroke="#30f0f0" stroke-width="4.2"/><path d="M108,189 L95,228" stroke="#19e6e6" stroke-width="3.6"/><path d="M110,138 L104,109" stroke="#c8fafa" stroke-width="4.1"/><path d="M125,166 L207,147" stroke="#c8fafa" stroke-width="5.8"/><path d="M119,165 L172,122" stroke="#c8fafa" stroke-width="7.0"/><path d="M118,189 L126,249" stroke="#00d8dc" stroke-width="6.2"/><path d="M125,149 L157,85" stroke="#19e6e6" stroke-width="6.0"/><path d="M124,158 L166,113" stroke="#19e6e6" stroke-width="4.1"/><path d="M91,154 L33,122" stroke="#c8fafa" stroke-width="6.9"/><path d="M132,152 L161,125" stroke="#19e6e6" stroke-width="3.1"/><path d="M132,186 L154,209" stroke="#00d8dc" stroke-width="4.3"/><path d="M91,159 L35,137" stroke="#30f0f0" stroke-width="5.2"/><path d="M85,170 L44,173" stroke="#00e0e8" stroke-width="6.8"/><path d="M85,151 L50,131" stroke="#19e6e6" stroke-width="6.0"/><path d="M126,150 L154,107" stroke="#00e0e8" stroke-width="6.3"/><path d="M96,187 L49,233" stroke="#c8fafa" stroke-width="6.3"/><path d="M118,177 L135,226" stroke="#30f0f0" stroke-width="4.7"/><path d="M114,181 L109,243" stroke="#30f0f0" stroke-width="6.4"/><path d="M96,178 L38,211" stroke="#9ff8f8" stroke-width="4.3"/><path d="M90,144 L49,104" stroke="#30f0f0" stroke-width="4.4"/><path d="M119,163 L159,121" stroke="#c8fafa" stroke-width="6.3"/><path d="M102,149 L77,116" stroke="#19e6e6" stroke-width="6.7"/></g>
<circle cx="115" cy="168" r="58" fill="url(#amcy)"/>
<path d="M165,32 C175,26 189,24 205,22 C221,20 246,17 260,20 C274,23 281,31 290,38 C299,45 300,59 312,60 C324,61 344,47 362,45 C380,43 404,50 422,50 C440,50 457,44 472,45 C487,46 504,48 512,55 C520,62 512,82 517,90 C522,98 536,90 542,100 C548,110 554,134 552,150 C550,166 545,184 532,195 C519,206 480,208 472,215 C464,222 483,232 482,240 C481,248 469,257 467,265 C465,273 480,282 472,290 C464,298 435,305 422,310 C409,315 402,316 392,320 C382,324 372,330 362,335 C352,340 338,341 332,350 C326,359 332,381 327,390 C322,399 311,403 302,405 C293,407 284,402 272,400 C260,398 245,397 230,395 C215,393 191,394 180,390 C169,386 172,376 165,370 C158,364 154,360 140,355 C126,350 98,343 80,340 C62,337 40,340 30,335 C20,330 18,318 20,310 C22,302 28,297 40,290 C52,283 73,277 90,270 C107,263 128,259 140,250 C152,241 163,223 165,215 C167,207 157,208 150,200 C143,192 128,181 125,170 C122,159 117,143 130,135 C143,127 200,127 205,120 C210,113 170,105 160,95 C150,85 144,70 145,60 C146,50 155,38 165,32Z" fill="#f7a4a0" stroke="#fac4c0" stroke-width="7"/>
<circle cx="370" cy="185" r="42" fill="url(#amnuc)"/>
<ellipse cx="265" cy="262" rx="40" ry="22" fill="#8a0a0c"/>
<circle cx="290" cy="125" r="19" fill="url(#amv)"/>
<circle cx="130" cy="296" r="12" fill="url(#amv)"/>
<g fill="#fcd8d6">
<circle cx="205" cy="65" r="11"/><circle cx="277" cy="192" r="22"/><circle cx="168" cy="165" r="8"/>
<circle cx="415" cy="110" r="10"/><circle cx="442" cy="180" r="16"/><circle cx="412" cy="152" r="7"/>
<circle cx="350" cy="265" r="10"/><circle cx="392" cy="292" r="12"/><circle cx="300" cy="335" r="9"/>
<circle cx="240" cy="328" r="8"/><circle cx="210" cy="355" r="6"/><circle cx="462" cy="90" r="6"/>
<circle cx="470" cy="250" r="6"/><circle cx="205" cy="205" r="6"/><circle cx="108" cy="325" r="6"/>
<circle cx="350" cy="100" r="6"/><circle cx="430" cy="225" r="6"/><circle cx="250" cy="95" r="5"/>
</g>
</g>
</g>
<!-- cell -->
<g id="cell">
<defs>
<radialGradient id="cg1" cx="0.5" cy="0.5" r="0.5"><stop offset="0" stop-color="#c8eefa"/><stop offset="0.72" stop-color="#8ed6f5"/><stop offset="0.9" stop-color="#4cb2ec"/><stop offset="1" stop-color="#2a8ee0"/></radialGradient>
<linearGradient id="cg2" x1="0" y1="0" x2="0" y2="1"><stop offset="0" stop-color="#e8f6fb"/><stop offset="1" stop-color="#d4ecf6"/></linearGradient>
<linearGradient id="cg3" x1="0" y1="0" x2="0" y2="1"><stop offset="0" stop-color="#bfe6f6"/><stop offset="1" stop-color="#a4dcf4"/></linearGradient>
<radialGradient id="cnuc" cx="0.5" cy="0.5" r="0.5"><stop offset="0" stop-color="#f4f0f6"/><stop offset="0.7" stop-color="#d8d0dc"/><stop offset="1" stop-color="#8a7e90"/></radialGradient>
</defs>
<g transform="translate(240,315) scale(0.2483)">
<ellipse cx="225" cy="222" rx="212" ry="193" fill="url(#cg1)"/>
<path d="M22,232 C40,160 75,120 100,100 L300,70 C360,90 410,150 428,232 Z" fill="url(#cg2)" opacity="0.95"/>
<path d="M22,232 L428,232 C425,260 415,285 400,300 L130,300 C80,290 40,265 22,232 Z" fill="url(#cg3)"/>
<path d="M22,232 L428,232" stroke="#7cc8ec" stroke-width="3"/>
<path d="M100,100 L300,70" stroke="#b4dcec" stroke-width="2"/>
<path d="M120,300 L120,400" stroke="#e8f8ff" stroke-width="3"/>
<g fill="none" stroke="#a77bb5" stroke-width="10" stroke-linecap="round">
<path d="M110,175 C150,140 230,130 260,150"/>
<path d="M105,195 C150,160 220,155 250,170"/>
<path d="M115,215 C150,185 200,180 225,190"/>
<path d="M260,150 C310,140 360,160 380,200"/>
<path d="M265,170 C310,165 340,185 350,220"/>
<path d="M280,195 C310,195 325,210 328,235"/>
<path d="M130,140 C170,120 230,115 280,130"/>
</g>
<ellipse cx="240" cy="215" rx="70" ry="50" fill="url(#cnuc)" stroke="#8e8496" stroke-width="6"/>
<ellipse cx="238" cy="215" rx="22" ry="15" fill="#4a4a78"/>
<path d="M185,195 C200,180 230,172 260,178" fill="none" stroke="#fff" stroke-width="4" opacity="0.7"/>
<ellipse cx="140" cy="115" rx="22" ry="16" fill="#6c6c9c"/>
<path d="M240,110 C270,85 300,90 295,100 C290,125 320,125 330,130 C300,135 260,125 240,110 Z" fill="#f4ecc4"/>
<ellipse cx="75" cy="200" rx="12" ry="20" fill="#a47c6c"/>
<ellipse cx="352" cy="268" rx="24" ry="15" fill="#b07c6a"/>
<path d="M88,252 L128,240 L150,272 L110,285 Z" fill="#34a034"/>
<path d="M95,258 L135,248" stroke="#8ad46a" stroke-width="4"/>
<ellipse cx="220" cy="290" rx="50" ry="18" fill="#9e84ac"/>
<path d="M230,312 C250,305 275,305 290,312 L292,419 L232,419 Z" fill="#f0f8fc"/>
<path d="M240,320 L245,419 M260,315 L262,419 M278,318 L282,419" stroke="#c8e8f4" stroke-width="4"/>
<ellipse cx="130" cy="330" rx="40" ry="12" fill="#fff" opacity="0.25"/>
</g>
<rect x="264.3" y="320.7" width="42.7" height="18.5" fill="#fff" stroke="#4a6ec8" stroke-width="0.9"/>
</g>
<!-- runner -->
<g id="runner">
<rect x="428" y="317" width="142" height="98" fill="#fff"/>
<g transform="translate(428,317) scale(0.2339)">
<path d="M12,66 L36,68 C150,85 400,140 555,172 L585,388 L45,392 L40,292 C55,275 58,262 58,245 L58,190 C55,140 45,100 34,69 Z" fill="#c85450"/>
<g fill="none" stroke="#fff" stroke-width="4.5" stroke-linecap="round">
<path d="M44,69 C60,100 100,170 140,230 C160,270 145,340 95,392"/>
<path d="M57,69 C95,110 160,165 225,215 C262,250 270,320 250,392"/>
<path d="M71,69 C130,115 230,175 320,225 C370,260 392,330 392,392"/>
<path d="M85,69 C180,120 300,175 420,232 C490,270 540,330 562,390"/>
<path d="M102,71 C220,115 400,180 558,240"/>
<path d="M119,72 C250,108 420,160 558,205"/>
<path d="M140,74 C270,100 430,145 556,182"/>
<path d="M62,214 L130,212" stroke-width="3.5"/>
<path d="M128,185 L180,180" stroke-width="3"/>
<path d="M180,160 L225,155" stroke-width="3"/>
<path d="M225,140 L262,135" stroke-width="2.5"/>
</g>
<g fill="#f0b028">
<path d="M40,335 L65,320 L108,332 Z"/>
<path d="M155,300 L190,285 L242,298 Z"/>
<path d="M262,258 L290,245 L335,256 Z"/>
<path d="M315,214 L340,204 L362,212 Z"/>
<path d="M335,186 L352,178 L368,184 Z"/>
</g>
<g fill="#fff">
<path d="M85,232 L112,230 L116,242 L88,244 Z"/>
<path d="M150,198 L178,196 L182,206 L154,208 Z"/>
<path d="M198,174 L222,172 L226,181 L202,183 Z"/>
<path d="M242,154 L262,152 L265,160 L245,161 Z"/>
<path d="M272,138 L288,137 L290,143 L274,144 Z"/>
</g>
<path d="M431,21 C435,20 448,27 452,30 C455,33 458,43 459,47 C459,51 456,61 454,64 C452,67 444,70 443,72 C442,74 444,81 448,83 C451,85 464,88 469,92 C473,95 482,107 486,112 C489,117 498,128 498,131 C499,135 494,142 490,144 C485,146 464,147 460,146 C456,145 454,138 456,136 C458,134 474,132 475,129 C475,126 462,108 460,110 C458,113 457,138 456,148 C455,159 451,185 449,195 C447,205 440,224 441,233 C441,242 452,263 454,270 C457,277 462,287 463,293 C463,298 461,313 459,318 C456,323 449,332 445,332 C441,333 430,325 429,321 C428,316 436,299 436,293 C435,286 427,274 424,270 C420,265 411,251 407,253 C403,255 395,278 390,287 C384,295 368,314 361,321 C354,327 337,339 330,343 C324,346 310,351 305,351 C300,351 289,345 289,343 C289,340 299,334 303,329 C308,324 321,311 327,302 C333,293 348,264 353,254 C357,244 363,228 364,219 C366,210 364,188 364,178 C365,168 370,143 370,136 C369,129 365,123 363,120 C360,118 350,119 347,117 C345,115 337,109 340,105 C343,102 364,92 371,89 C379,86 395,80 401,78 C407,76 419,77 420,75 C422,72 415,64 414,59 C413,55 410,43 412,38 C414,34 426,22 431,21Z" fill="#3c1313"/>
</g>
</g>
</g>
<text x="264.6" y="239" font-size="11.5" fill="#f00" stroke="#f00" stroke-width="0.45" textLength="44.5" lengthAdjust="spacingAndGlyphs">DHA/EPA</text>
<text x="361.6" y="161.3" font-size="11.5" fill="#f00" stroke="#f00" stroke-width="0.45" textLength="72.8" lengthAdjust="spacingAndGlyphs">Vinyl ether bond</text>
<text x="420.2" y="261.3" font-size="11.5" fill="#f00" stroke="#f00" stroke-width="0.45" textLength="50.6" lengthAdjust="spacingAndGlyphs">Polar group</text>
<text x="271" y="333.8" font-size="10" fill="#262626" stroke="#262626" stroke-width="0.3" textLength="28.6" lengthAdjust="spacingAndGlyphs">glucose</text>
</svg>
</body></html>
